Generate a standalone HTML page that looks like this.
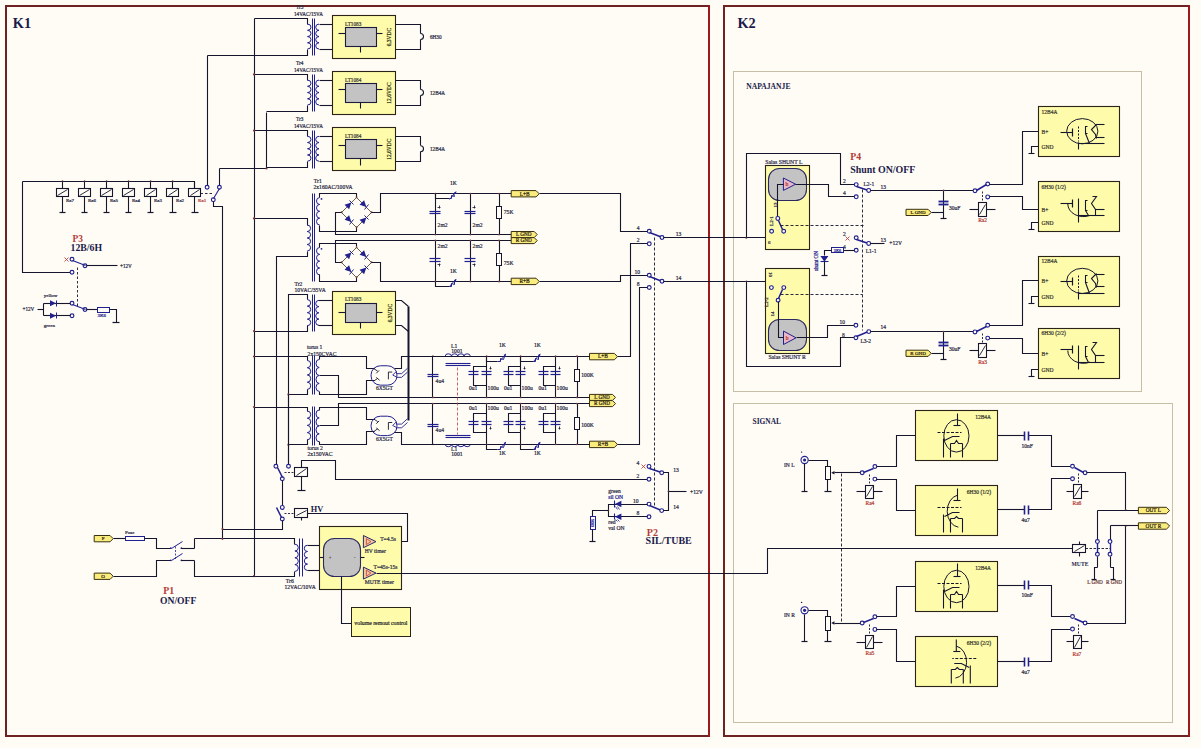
<!DOCTYPE html><html><head><meta charset="utf-8"><style>html,body{margin:0;padding:0;background:#fffcf5}svg{display:block}</style></head><body><svg width="1201" height="748" viewBox="0 0 1201 748">
<rect x="0" y="0" width="1201" height="748" fill="#fffcf5"/>
<path d="M5.00 6.00 L710.00 6.00" fill="none" stroke="#6e2222" stroke-width="2.0" />
<path d="M5.00 736.00 L710.00 736.00" fill="none" stroke="#6e2222" stroke-width="2.0" />
<path d="M6.00 5.00 L6.00 737.00" fill="none" stroke="#6e2222" stroke-width="2.0" />
<path d="M709.00 5.00 L709.00 737.00" fill="none" stroke="#9a1a1e" stroke-width="2.0" />
<path d="M723.00 6.00 L1190.00 6.00" fill="none" stroke="#6e2222" stroke-width="2.0" />
<path d="M723.00 736.00 L1190.00 736.00" fill="none" stroke="#6e2222" stroke-width="2.0" />
<path d="M724.00 5.00 L724.00 737.00" fill="none" stroke="#6e2222" stroke-width="2.0" />
<path d="M1189.00 5.00 L1189.00 737.00" fill="none" stroke="#9a1a1e" stroke-width="2.0" />
<rect x="733.5" y="71.5" width="408.0" height="320.0" fill="none" stroke="#c8bea6" stroke-width="1.0" rx="0"/>
<rect x="733.5" y="403.5" width="439.0" height="319.0" fill="none" stroke="#c8bea6" stroke-width="1.0" rx="0"/>
<text x="12.8" y="28" font-family="Liberation Serif" font-size="14.3" fill="#1a1a4a" font-weight="bold" text-anchor="start">K1</text>
<text x="737.4" y="28" font-family="Liberation Serif" font-size="14.3" fill="#1a1a4a" font-weight="bold" text-anchor="start">K2</text>
<path d="M254.50 18.50 L254.50 576.50" fill="none" stroke="#15152e" stroke-width="1.1" />
<path d="M207.50 55.50 L207.50 185.50" fill="none" stroke="#15152e" stroke-width="1.1" />
<path d="M266.50 112.50 L266.50 168.50" fill="none" stroke="#15152e" stroke-width="1.1" />
<path d="M219.50 168.50 L219.50 185.50" fill="none" stroke="#15152e" stroke-width="1.1" />
<path d="M219.50 168.50 L266.50 168.50" fill="none" stroke="#15152e" stroke-width="1.1" />
<path d="M254.50 18.50 L307.50 18.50 L307.50 24.50" fill="none" stroke="#15152e" stroke-width="1.1" />
<path d="M307.5 24.1 A3.5 3.1125 0 0 1 307.5 30.325000000000003 A3.5 3.1125 0 0 1 307.5 36.55 A3.5 3.1125 0 0 1 307.5 42.775 A3.5 3.1125 0 0 1 307.5 49.0" fill="none" stroke="#20208e" stroke-width="1.0"/>
<path d="M307.50 49.50 L307.50 55.50 L207.50 55.50" fill="none" stroke="#15152e" stroke-width="1.1" />
<path d="M312.50 18.50 L312.50 55.50" fill="none" stroke="#20208e" stroke-width="1.0" />
<path d="M314.50 18.50 L314.50 55.50" fill="none" stroke="#20208e" stroke-width="1.0" />
<path d="M332.50 24.50 L319.50 24.50" fill="none" stroke="#15152e" stroke-width="1.1" />
<path d="M319.0 24.1 A3.3 3.1125 0 0 0 319.0 30.325000000000003 A3.3 3.1125 0 0 0 319.0 36.55 A3.3 3.1125 0 0 0 319.0 42.775 A3.3 3.1125 0 0 0 319.0 49.0" fill="none" stroke="#20208e" stroke-width="1.0"/>
<path d="M319.50 49.50 L332.50 49.50" fill="none" stroke="#15152e" stroke-width="1.1" />
<text x="296" y="9" font-family="Liberation Serif" font-size="5.2" fill="#2c2c48" font-weight="normal" text-anchor="start" stroke="#2c2c48" stroke-width="0.22">Tr5</text>
<text x="294" y="15.6" font-family="Liberation Serif" font-size="5.2" fill="#2c2c48" font-weight="normal" text-anchor="start" stroke="#2c2c48" stroke-width="0.22">14VAC/15VA</text>
<rect x="332.5" y="15.5" width="63.0" height="43.0" fill="#fefcaa" stroke="#2a2418" stroke-width="1.1" rx="0"/>
<rect x="345.5" y="27.5" width="31.0" height="19.0" fill="#c3c3c3" stroke="#1c1c40" stroke-width="1.1" rx="0"/>
<path d="M338.50 33.50 L345.50 33.50" fill="none" stroke="#15152e" stroke-width="1.1" />
<path d="M376.50 33.50 L382.50 33.50" fill="none" stroke="#15152e" stroke-width="1.1" />
<path d="M360.50 46.50 L360.50 52.50" fill="none" stroke="#15152e" stroke-width="1.1" />
<text x="345" y="25.7" font-family="Liberation Serif" font-size="5.2" fill="#3a3a3a" font-weight="normal" text-anchor="start" stroke="#3a3a3a" stroke-width="0.22">LT1083</text>
<text x="391.2" y="37" font-family="Liberation Serif" font-size="5.5" fill="#3a3a20" font-weight="normal" text-anchor="middle" stroke="#3a3a20" stroke-width="0.22" transform="rotate(-90 391.2 37)">6,3VDC</text>
<path d="M395.50 24.50 L420.50 24.50 L420.50 33.50" fill="none" stroke="#15152e" stroke-width="1.1" />
<path d="M420.5 33.5 A3 3 0 0 1 420.5 39.5" fill="none" stroke="#15152e" stroke-width="1.1"/>
<path d="M420.50 39.50 L420.50 49.50 L395.50 49.50" fill="none" stroke="#15152e" stroke-width="1.1" />
<text x="430" y="38.5" font-family="Liberation Serif" font-size="5.2" fill="#2c2c48" font-weight="normal" text-anchor="start" stroke="#2c2c48" stroke-width="0.22">6H30</text>
<path d="M254.50 74.50 L307.50 74.50 L307.50 80.50" fill="none" stroke="#15152e" stroke-width="1.1" />
<path d="M307.5 80.1 A3.5 3.1125000000000007 0 0 1 307.5 86.32499999999999 A3.5 3.1125000000000007 0 0 1 307.5 92.55 A3.5 3.1125000000000007 0 0 1 307.5 98.775 A3.5 3.1125000000000007 0 0 1 307.5 105.0" fill="none" stroke="#20208e" stroke-width="1.0"/>
<path d="M307.50 105.50 L307.50 111.50 L266.50 111.50" fill="none" stroke="#15152e" stroke-width="1.1" />
<path d="M312.50 74.50 L312.50 111.50" fill="none" stroke="#20208e" stroke-width="1.0" />
<path d="M314.50 74.50 L314.50 111.50" fill="none" stroke="#20208e" stroke-width="1.0" />
<path d="M332.50 80.50 L319.50 80.50" fill="none" stroke="#15152e" stroke-width="1.1" />
<path d="M319.0 80.1 A3.3 3.1125000000000007 0 0 0 319.0 86.32499999999999 A3.3 3.1125000000000007 0 0 0 319.0 92.55 A3.3 3.1125000000000007 0 0 0 319.0 98.775 A3.3 3.1125000000000007 0 0 0 319.0 105.0" fill="none" stroke="#20208e" stroke-width="1.0"/>
<path d="M319.50 105.50 L332.50 105.50" fill="none" stroke="#15152e" stroke-width="1.1" />
<text x="296" y="65.0" font-family="Liberation Serif" font-size="5.2" fill="#2c2c48" font-weight="normal" text-anchor="start" stroke="#2c2c48" stroke-width="0.22">Tr4</text>
<text x="294" y="71.6" font-family="Liberation Serif" font-size="5.2" fill="#2c2c48" font-weight="normal" text-anchor="start" stroke="#2c2c48" stroke-width="0.22">14VAC/15VA</text>
<rect x="332.5" y="71.5" width="63.0" height="43.0" fill="#fefcaa" stroke="#2a2418" stroke-width="1.1" rx="0"/>
<rect x="345.5" y="83.5" width="31.0" height="19.0" fill="#c3c3c3" stroke="#1c1c40" stroke-width="1.1" rx="0"/>
<path d="M338.50 89.50 L345.50 89.50" fill="none" stroke="#15152e" stroke-width="1.1" />
<path d="M376.50 89.50 L382.50 89.50" fill="none" stroke="#15152e" stroke-width="1.1" />
<path d="M360.50 102.50 L360.50 108.50" fill="none" stroke="#15152e" stroke-width="1.1" />
<text x="345" y="81.7" font-family="Liberation Serif" font-size="5.2" fill="#3a3a3a" font-weight="normal" text-anchor="start" stroke="#3a3a3a" stroke-width="0.22">LT1084</text>
<text x="391.2" y="93.0" font-family="Liberation Serif" font-size="5.5" fill="#3a3a20" font-weight="normal" text-anchor="middle" stroke="#3a3a20" stroke-width="0.22" transform="rotate(-90 391.2 93.0)">12,6VDC</text>
<path d="M395.50 80.50 L420.50 80.50 L420.50 89.50" fill="none" stroke="#15152e" stroke-width="1.1" />
<path d="M420.5 89.5 A3 3 0 0 1 420.5 95.5" fill="none" stroke="#15152e" stroke-width="1.1"/>
<path d="M420.50 95.50 L420.50 105.50 L395.50 105.50" fill="none" stroke="#15152e" stroke-width="1.1" />
<text x="430" y="94.5" font-family="Liberation Serif" font-size="5.2" fill="#2c2c48" font-weight="normal" text-anchor="start" stroke="#2c2c48" stroke-width="0.22">12B4A</text>
<path d="M254.50 130.50 L307.50 130.50 L307.50 136.50" fill="none" stroke="#15152e" stroke-width="1.1" />
<path d="M307.5 136.3 A3.5 3.112499999999997 0 0 1 307.5 142.525 A3.5 3.112499999999997 0 0 1 307.5 148.75 A3.5 3.112499999999997 0 0 1 307.5 154.975 A3.5 3.112499999999997 0 0 1 307.5 161.2" fill="none" stroke="#20208e" stroke-width="1.0"/>
<path d="M307.50 161.50 L307.50 167.50 L266.50 167.50" fill="none" stroke="#15152e" stroke-width="1.1" />
<path d="M312.50 130.50 L312.50 168.50" fill="none" stroke="#20208e" stroke-width="1.0" />
<path d="M314.50 130.50 L314.50 168.50" fill="none" stroke="#20208e" stroke-width="1.0" />
<path d="M332.50 136.50 L319.50 136.50" fill="none" stroke="#15152e" stroke-width="1.1" />
<path d="M319.0 136.3 A3.3 3.112499999999997 0 0 0 319.0 142.525 A3.3 3.112499999999997 0 0 0 319.0 148.75 A3.3 3.112499999999997 0 0 0 319.0 154.975 A3.3 3.112499999999997 0 0 0 319.0 161.2" fill="none" stroke="#20208e" stroke-width="1.0"/>
<path d="M319.50 161.50 L332.50 161.50" fill="none" stroke="#15152e" stroke-width="1.1" />
<text x="296" y="121.2" font-family="Liberation Serif" font-size="5.2" fill="#2c2c48" font-weight="normal" text-anchor="start" stroke="#2c2c48" stroke-width="0.22">Tr3</text>
<text x="294" y="127.8" font-family="Liberation Serif" font-size="5.2" fill="#2c2c48" font-weight="normal" text-anchor="start" stroke="#2c2c48" stroke-width="0.22">14VAC/15VA</text>
<rect x="332.5" y="127.5" width="63.0" height="43.0" fill="#fefcaa" stroke="#2a2418" stroke-width="1.1" rx="0"/>
<rect x="345.5" y="139.5" width="31.0" height="19.0" fill="#c3c3c3" stroke="#1c1c40" stroke-width="1.1" rx="0"/>
<path d="M338.50 145.50 L345.50 145.50" fill="none" stroke="#15152e" stroke-width="1.1" />
<path d="M376.50 145.50 L382.50 145.50" fill="none" stroke="#15152e" stroke-width="1.1" />
<path d="M360.50 158.50 L360.50 165.50" fill="none" stroke="#15152e" stroke-width="1.1" />
<text x="345" y="137.9" font-family="Liberation Serif" font-size="5.2" fill="#3a3a3a" font-weight="normal" text-anchor="start" stroke="#3a3a3a" stroke-width="0.22">LT1084</text>
<text x="391.2" y="149.2" font-family="Liberation Serif" font-size="5.5" fill="#3a3a20" font-weight="normal" text-anchor="middle" stroke="#3a3a20" stroke-width="0.22" transform="rotate(-90 391.2 149.2)">12,6VDC</text>
<path d="M395.50 136.50 L420.50 136.50 L420.50 145.50" fill="none" stroke="#15152e" stroke-width="1.1" />
<path d="M420.5 145.7 A3 3 0 0 1 420.5 151.7" fill="none" stroke="#15152e" stroke-width="1.1"/>
<path d="M420.50 151.50 L420.50 161.50 L395.50 161.50" fill="none" stroke="#15152e" stroke-width="1.1" />
<text x="430" y="150.7" font-family="Liberation Serif" font-size="5.2" fill="#2c2c48" font-weight="normal" text-anchor="start" stroke="#2c2c48" stroke-width="0.22">12B4A</text>
<circle cx="254" cy="74.4" r="1.1" fill="#7a3a3a"/>
<circle cx="254" cy="130.6" r="1.1" fill="#7a3a3a"/>
<circle cx="266.5" cy="168.5" r="1.1" fill="#7a3a3a"/>
<path d="M22.50 181.50 L194.50 181.50 L194.50 188.50" fill="none" stroke="#15152e" stroke-width="1.1" />
<path d="M22.50 181.50 L22.50 272.50 L70.50 272.50" fill="none" stroke="#15152e" stroke-width="1.1" />
<circle cx="62.5" cy="181.1" r="0.9" fill="#7a3a3a"/>
<path d="M62.50 181.50 L62.50 188.50" fill="none" stroke="#15152e" stroke-width="1.1" />
<rect x="56.5" y="188.5" width="12.0" height="8.0" fill="none" stroke="#15152e" stroke-width="1.1" rx="0"/>
<path d="M57.50 195.50 L67.50 189.50" fill="none" stroke="#15152e" stroke-width="0.9" />
<path d="M62.50 196.50 L62.50 212.50" fill="none" stroke="#15152e" stroke-width="1.1" />
<path d="M59.50 212.50 L65.50 212.50" fill="none" stroke="#15152e" stroke-width="1.2" />
<text x="65.9" y="201.8" font-family="Liberation Serif" font-size="5.0" fill="#2c2c48" font-weight="normal" text-anchor="start" stroke="#2c2c48" stroke-width="0.22">Ra7</text>
<circle cx="84.53" cy="181.1" r="0.9" fill="#7a3a3a"/>
<path d="M84.50 181.50 L84.50 188.50" fill="none" stroke="#15152e" stroke-width="1.1" />
<rect x="78.5" y="188.5" width="12.0" height="8.0" fill="none" stroke="#15152e" stroke-width="1.1" rx="0"/>
<path d="M79.50 195.50 L89.50 189.50" fill="none" stroke="#15152e" stroke-width="0.9" />
<path d="M84.50 196.50 L84.50 212.50" fill="none" stroke="#15152e" stroke-width="1.1" />
<path d="M81.50 212.50 L87.50 212.50" fill="none" stroke="#15152e" stroke-width="1.2" />
<text x="87.93" y="201.8" font-family="Liberation Serif" font-size="5.0" fill="#2c2c48" font-weight="normal" text-anchor="start" stroke="#2c2c48" stroke-width="0.22">Ra6</text>
<circle cx="106.56" cy="181.1" r="0.9" fill="#7a3a3a"/>
<path d="M106.50 181.50 L106.50 188.50" fill="none" stroke="#15152e" stroke-width="1.1" />
<rect x="100.5" y="188.5" width="12.0" height="8.0" fill="none" stroke="#15152e" stroke-width="1.1" rx="0"/>
<path d="M101.50 195.50 L111.50 189.50" fill="none" stroke="#15152e" stroke-width="0.9" />
<path d="M106.50 196.50 L106.50 212.50" fill="none" stroke="#15152e" stroke-width="1.1" />
<path d="M103.50 212.50 L109.50 212.50" fill="none" stroke="#15152e" stroke-width="1.2" />
<text x="109.96000000000001" y="201.8" font-family="Liberation Serif" font-size="5.0" fill="#2c2c48" font-weight="normal" text-anchor="start" stroke="#2c2c48" stroke-width="0.22">Ra5</text>
<circle cx="128.59" cy="181.1" r="0.9" fill="#7a3a3a"/>
<path d="M128.50 181.50 L128.50 188.50" fill="none" stroke="#15152e" stroke-width="1.1" />
<rect x="122.5" y="188.5" width="12.0" height="8.0" fill="none" stroke="#15152e" stroke-width="1.1" rx="0"/>
<path d="M123.50 195.50 L133.50 189.50" fill="none" stroke="#15152e" stroke-width="0.9" />
<path d="M128.50 196.50 L128.50 212.50" fill="none" stroke="#15152e" stroke-width="1.1" />
<path d="M125.50 212.50 L131.50 212.50" fill="none" stroke="#15152e" stroke-width="1.2" />
<text x="131.99" y="201.8" font-family="Liberation Serif" font-size="5.0" fill="#2c2c48" font-weight="normal" text-anchor="start" stroke="#2c2c48" stroke-width="0.22">Ra4</text>
<circle cx="150.62" cy="181.1" r="0.9" fill="#7a3a3a"/>
<path d="M150.50 181.50 L150.50 188.50" fill="none" stroke="#15152e" stroke-width="1.1" />
<rect x="144.5" y="188.5" width="12.0" height="8.0" fill="none" stroke="#15152e" stroke-width="1.1" rx="0"/>
<path d="M146.50 195.50 L155.50 189.50" fill="none" stroke="#15152e" stroke-width="0.9" />
<path d="M150.50 196.50 L150.50 212.50" fill="none" stroke="#15152e" stroke-width="1.1" />
<path d="M147.50 212.50 L153.50 212.50" fill="none" stroke="#15152e" stroke-width="1.2" />
<text x="154.02" y="201.8" font-family="Liberation Serif" font-size="5.0" fill="#2c2c48" font-weight="normal" text-anchor="start" stroke="#2c2c48" stroke-width="0.22">Ra3</text>
<circle cx="172.65" cy="181.1" r="0.9" fill="#7a3a3a"/>
<path d="M172.50 181.50 L172.50 188.50" fill="none" stroke="#15152e" stroke-width="1.1" />
<rect x="166.5" y="188.5" width="12.0" height="8.0" fill="none" stroke="#15152e" stroke-width="1.1" rx="0"/>
<path d="M168.50 195.50 L177.50 189.50" fill="none" stroke="#15152e" stroke-width="0.9" />
<path d="M172.50 196.50 L172.50 212.50" fill="none" stroke="#15152e" stroke-width="1.1" />
<path d="M169.50 212.50 L176.50 212.50" fill="none" stroke="#15152e" stroke-width="1.2" />
<text x="176.05" y="201.8" font-family="Liberation Serif" font-size="5.0" fill="#2c2c48" font-weight="normal" text-anchor="start" stroke="#2c2c48" stroke-width="0.22">Ra2</text>
<path d="M194.50 181.50 L194.50 188.50" fill="none" stroke="#15152e" stroke-width="1.1" />
<rect x="188.5" y="188.5" width="12.0" height="8.0" fill="none" stroke="#15152e" stroke-width="1.1" rx="0"/>
<path d="M190.50 195.50 L199.50 189.50" fill="none" stroke="#15152e" stroke-width="0.9" />
<path d="M194.50 196.50 L194.50 212.50" fill="none" stroke="#15152e" stroke-width="1.1" />
<path d="M191.50 212.50 L198.50 212.50" fill="none" stroke="#15152e" stroke-width="1.2" />
<text x="198.08" y="201.8" font-family="Liberation Serif" font-size="5.0" fill="#b53c3a" font-weight="normal" text-anchor="start" stroke="#b53c3a" stroke-width="0.22">Ra1</text>
<path d="M200.50 193.50 L213.50 193.50" fill="none" stroke="#15152e" stroke-width="0.9" stroke-dasharray="2.5 2"/>
<circle cx="207.1" cy="187.2" r="1.9" fill="#fffcf5" stroke="#20208e" stroke-width="1.15"/>
<circle cx="219.4" cy="187.2" r="1.9" fill="#fffcf5" stroke="#20208e" stroke-width="1.15"/>
<circle cx="213.3" cy="199.8" r="1.9" fill="#fffcf5" stroke="#20208e" stroke-width="1.15"/>
<path d="M213.50 198.50 L219.50 188.50" fill="none" stroke="#20208e" stroke-width="1.1" />
<path d="M213.50 201.50 L213.50 206.50 L222.50 206.50 L222.50 538.50" fill="none" stroke="#15152e" stroke-width="1.1" />
<text x="72.5" y="241.5" font-family="Liberation Serif" font-size="9.4" fill="#b53c3a" font-weight="bold" text-anchor="start">P3</text>
<text x="70.5" y="250.5" font-family="Liberation Serif" font-size="9.8" fill="#1a1a4a" font-weight="bold" text-anchor="start">12B/6H</text>
<circle cx="72" cy="259.3" r="1.9" fill="#fffcf5" stroke="#20208e" stroke-width="1.15"/>
<circle cx="72" cy="272.3" r="1.9" fill="#fffcf5" stroke="#20208e" stroke-width="1.15"/>
<circle cx="85" cy="265.8" r="1.9" fill="#fffcf5" stroke="#20208e" stroke-width="1.15"/>
<path d="M64.50 257.50 L68.50 261.50" fill="none" stroke="#d04040" stroke-width="0.9" />
<path d="M64.50 261.50 L68.50 257.50" fill="none" stroke="#d04040" stroke-width="0.9" />
<path d="M72.50 260.50 L85.50 265.50" fill="none" stroke="#20208e" stroke-width="1.1" />
<path d="M86.50 265.50 L117.50 265.50" fill="none" stroke="#15152e" stroke-width="1.1" />
<text x="120" y="267.5" font-family="Liberation Serif" font-size="5.2" fill="#2c2c48" font-weight="normal" text-anchor="start" stroke="#2c2c48" stroke-width="0.22">+12V</text>
<path d="M77.50 267.50 L77.50 306.50" fill="none" stroke="#15152e" stroke-width="0.9" stroke-dasharray="2.5 2"/>
<circle cx="72" cy="303.2" r="1.9" fill="#fffcf5" stroke="#20208e" stroke-width="1.15"/>
<circle cx="72" cy="315.8" r="1.9" fill="#fffcf5" stroke="#20208e" stroke-width="1.15"/>
<circle cx="85" cy="309.5" r="1.9" fill="#fffcf5" stroke="#20208e" stroke-width="1.15"/>
<path d="M72.50 304.50 L85.50 309.50" fill="none" stroke="#20208e" stroke-width="1.1" />
<path d="M86.50 309.50 L97.50 309.50" fill="none" stroke="#15152e" stroke-width="1.1" />
<rect x="97.5" y="307.5" width="12.0" height="5.0" fill="none" stroke="#20208e" stroke-width="1.0" rx="0"/>
<path d="M109.50 309.50 L116.50 309.50 L116.50 322.50" fill="none" stroke="#15152e" stroke-width="1.1" />
<path d="M112.50 322.50 L119.50 322.50" fill="none" stroke="#15152e" stroke-width="1.2" />
<text x="97.5" y="317" font-family="Liberation Serif" font-size="5" fill="#20208e" font-weight="normal" text-anchor="start" stroke="#20208e" stroke-width="0.22">3K6</text>
<path d="M37.50 309.50 L43.50 309.50" fill="none" stroke="#15152e" stroke-width="1.1" />
<path d="M43.50 303.50 L43.50 315.50" fill="none" stroke="#15152e" stroke-width="1.1" />
<path d="M43.50 303.50 L70.50 303.50" fill="none" stroke="#15152e" stroke-width="1.1" />
<path d="M43.50 315.50 L70.50 315.50" fill="none" stroke="#15152e" stroke-width="1.1" />
<path d="M50 300.2 L50 306.2 L56 303.2 Z" fill="#20208e"/>
<path d="M56.50 300.50 L56.50 306.50" fill="none" stroke="#20208e" stroke-width="1.0" />
<path d="M50 312.8 L50 318.8 L56 315.8 Z" fill="#20208e"/>
<path d="M56.50 312.50 L56.50 318.50" fill="none" stroke="#20208e" stroke-width="1.0" />
<text x="43.8" y="296.5" font-family="Liberation Serif" font-size="5" fill="#2c2c48" font-weight="normal" text-anchor="start" stroke="#2c2c48" stroke-width="0.22">yellow</text>
<text x="43.8" y="326.5" font-family="Liberation Serif" font-size="5" fill="#2c2c48" font-weight="normal" text-anchor="start" stroke="#2c2c48" stroke-width="0.22">green</text>
<text x="22.5" y="311" font-family="Liberation Serif" font-size="5.2" fill="#2c2c48" font-weight="normal" text-anchor="start" stroke="#2c2c48" stroke-width="0.22">+12V</text>
<path d="M254.50 218.50 L307.50 218.50 L307.50 225.50" fill="none" stroke="#15152e" stroke-width="1.1" />
<path d="M307.2 225 A3.4 3.25 0 0 1 307.2 231.5 A3.4 3.25 0 0 1 307.2 238.0 A3.4 3.25 0 0 1 307.2 244.5 A3.4 3.25 0 0 1 307.2 251.0" fill="none" stroke="#20208e" stroke-width="1.0"/>
<path d="M307.50 251.50 L307.50 256.50 L276.50 256.50 L276.50 464.50" fill="none" stroke="#15152e" stroke-width="1.1" />
<circle cx="254" cy="218.4" r="1.1" fill="#7a3a3a"/>
<path d="M312.50 193.50 L312.50 281.50" fill="none" stroke="#20208e" stroke-width="1.0" />
<path d="M314.50 193.50 L314.50 281.50" fill="none" stroke="#20208e" stroke-width="1.0" />
<text x="313.8" y="183" font-family="Liberation Serif" font-size="5.6" fill="#2c2c48" font-weight="normal" text-anchor="start" stroke="#2c2c48" stroke-width="0.22">Tr1</text>
<text x="313.5" y="188.8" font-family="Liberation Serif" font-size="5.6" fill="#2c2c48" font-weight="normal" text-anchor="start" stroke="#2c2c48" stroke-width="0.22">2x160AC/100VA</text>
<path d="M319.50 197.50 L319.50 193.50 L356.50 193.50 L356.50 197.50" fill="none" stroke="#15152e" stroke-width="1.1" />
<path d="M319.7 197.6 A3.2 3.4250000000000007 0 0 0 319.7 204.45 A3.2 3.4250000000000007 0 0 0 319.7 211.3 A3.2 3.4250000000000007 0 0 0 319.7 218.15 A3.2 3.4250000000000007 0 0 0 319.7 225.0" fill="none" stroke="#20208e" stroke-width="1.0"/>
<path d="M319.50 225.50 L319.50 231.50 L356.50 231.50 L356.50 227.50" fill="none" stroke="#15152e" stroke-width="1.1" />
<circle cx="321.5" cy="198.9" r="0.9" fill="#20208e"/>
<path d="M341.50 212.50 L356.50 197.50 L371.50 212.50 L356.50 227.50 L341.50 212.50" fill="none" stroke="#5a4a3a" stroke-width="0.9" />
<path d="M349.10 209.28 L344.57 204.75 L351.36 202.49 Z" fill="#20208e"/>
<path d="M353.50 204.50 L349.50 200.50" fill="none" stroke="#20208e" stroke-width="1.0" />
<path d="M359.57 204.75 L364.10 200.22 L366.36 207.01 Z" fill="#20208e"/>
<path d="M364.50 209.50 L368.50 204.50" fill="none" stroke="#20208e" stroke-width="1.0" />
<path d="M344.57 219.75 L349.10 215.22 L351.36 222.01 Z" fill="#20208e"/>
<path d="M349.50 224.50 L353.50 219.50" fill="none" stroke="#20208e" stroke-width="1.0" />
<path d="M364.10 224.28 L359.57 219.75 L366.36 217.49 Z" fill="#20208e"/>
<path d="M368.50 219.50 L364.50 215.50" fill="none" stroke="#20208e" stroke-width="1.0" />
<circle cx="356.6" cy="197.25" r="0.9" fill="#7a3a3a"/>
<circle cx="356.6" cy="227.25" r="0.9" fill="#7a3a3a"/>
<circle cx="341.6" cy="212.25" r="0.9" fill="#7a3a3a"/>
<circle cx="371.6" cy="212.25" r="0.9" fill="#7a3a3a"/>
<path d="M341.50 212.50 L335.50 212.50 L335.50 234.50 L511.50 234.50" fill="none" stroke="#15152e" stroke-width="1.1" />
<path d="M371.50 212.50 L380.50 212.50 L380.50 193.50 L511.50 193.50" fill="none" stroke="#15152e" stroke-width="1.1" />
<path d="M319.50 247.50 L319.50 243.50 L356.50 243.50 L356.50 246.50" fill="none" stroke="#15152e" stroke-width="1.1" />
<path d="M319.7 247.5 A3.2 3.424999999999997 0 0 0 319.7 254.35 A3.2 3.424999999999997 0 0 0 319.7 261.2 A3.2 3.424999999999997 0 0 0 319.7 268.04999999999995 A3.2 3.424999999999997 0 0 0 319.7 274.9" fill="none" stroke="#20208e" stroke-width="1.0"/>
<path d="M319.50 274.50 L319.50 281.50 L356.50 281.50 L356.50 277.50" fill="none" stroke="#15152e" stroke-width="1.1" />
<circle cx="321.5" cy="248.8" r="0.9" fill="#20208e"/>
<path d="M341.50 262.50 L356.50 247.50 L371.50 262.50 L356.50 277.50 L341.50 262.50" fill="none" stroke="#5a4a3a" stroke-width="0.9" />
<path d="M349.10 259.28 L344.57 254.75 L351.36 252.49 Z" fill="#20208e"/>
<path d="M353.50 254.50 L349.50 250.50" fill="none" stroke="#20208e" stroke-width="1.0" />
<path d="M359.57 254.75 L364.10 250.22 L366.36 257.01 Z" fill="#20208e"/>
<path d="M364.50 259.50 L368.50 254.50" fill="none" stroke="#20208e" stroke-width="1.0" />
<path d="M344.57 269.75 L349.10 265.22 L351.36 272.01 Z" fill="#20208e"/>
<path d="M349.50 274.50 L353.50 269.50" fill="none" stroke="#20208e" stroke-width="1.0" />
<path d="M364.10 274.28 L359.57 269.75 L366.36 267.49 Z" fill="#20208e"/>
<path d="M368.50 269.50 L364.50 265.50" fill="none" stroke="#20208e" stroke-width="1.0" />
<circle cx="356.6" cy="247.25" r="0.9" fill="#7a3a3a"/>
<circle cx="356.6" cy="277.25" r="0.9" fill="#7a3a3a"/>
<circle cx="341.6" cy="262.25" r="0.9" fill="#7a3a3a"/>
<circle cx="371.6" cy="262.25" r="0.9" fill="#7a3a3a"/>
<path d="M341.50 262.50 L335.50 262.50 L335.50 240.50 L511.50 240.50" fill="none" stroke="#15152e" stroke-width="1.1" />
<path d="M371.50 262.50 L380.50 262.50 L380.50 281.50 L511.50 281.50" fill="none" stroke="#15152e" stroke-width="1.1" />
<path d="M435.50 193.50 L435.50 234.50" fill="none" stroke="#15152e" stroke-width="1.1" />
<circle cx="435.4" cy="193.6" r="0.9" fill="#7a3a3a"/>
<circle cx="435.4" cy="234.6" r="0.9" fill="#7a3a3a"/>
<path d="M470.50 193.50 L470.50 234.50" fill="none" stroke="#15152e" stroke-width="1.1" />
<circle cx="470.4" cy="193.6" r="0.9" fill="#7a3a3a"/>
<circle cx="470.4" cy="234.6" r="0.9" fill="#7a3a3a"/>
<path d="M499.50 193.50 L499.50 234.50" fill="none" stroke="#15152e" stroke-width="1.1" />
<circle cx="499.0" cy="193.6" r="0.9" fill="#7a3a3a"/>
<circle cx="499.0" cy="234.6" r="0.9" fill="#7a3a3a"/>
<path d="M429.50 211.50 L440.50 211.50" fill="none" stroke="#20208e" stroke-width="1.2" />
<path d="M429.50 213.50 L440.50 213.50" fill="none" stroke="#20208e" stroke-width="1.2" />
<path d="M437.50 207.50 L440.50 207.50" fill="none" stroke="#15152e" stroke-width="0.8" />
<path d="M439.50 205.50 L439.50 208.50" fill="none" stroke="#15152e" stroke-width="0.8" />
<path d="M464.50 211.50 L475.50 211.50" fill="none" stroke="#20208e" stroke-width="1.2" />
<path d="M464.50 213.50 L475.50 213.50" fill="none" stroke="#20208e" stroke-width="1.2" />
<path d="M472.50 207.50 L475.50 207.50" fill="none" stroke="#15152e" stroke-width="0.8" />
<path d="M474.50 205.50 L474.50 208.50" fill="none" stroke="#15152e" stroke-width="0.8" />
<text x="437.6" y="226.5" font-family="Liberation Serif" font-size="5.6" fill="#2c2c48" font-weight="normal" text-anchor="start" stroke="#2c2c48" stroke-width="0.22">2m2</text>
<text x="472.6" y="226.5" font-family="Liberation Serif" font-size="5.6" fill="#2c2c48" font-weight="normal" text-anchor="start" stroke="#2c2c48" stroke-width="0.22">2m2</text>
<rect x="496.5" y="206.5" width="5.0" height="12.0" fill="#fffcf5" stroke="#15152e" stroke-width="1.0" rx="0"/>
<text x="503.8" y="213.5" font-family="Liberation Serif" font-size="5.6" fill="#2c2c48" font-weight="normal" text-anchor="start" stroke="#2c2c48" stroke-width="0.22">75K</text>
<path d="M435.50 193.50 L435.50 198.50 L449.50 198.50" fill="none" stroke="#15152e" stroke-width="1.1" />
<path d="M449.50 198.50 L451.50 198.50 L451.50 195.50 L454.50 196.50 L453.50 193.50 L456.50 193.50" fill="none" stroke="#20208e" stroke-width="1.0" />
<path d="M449.50 199.50 L455.50 192.50" fill="none" stroke="#20208e" stroke-width="0.9" />
<path d="M456.5 191.2 L453.9 192.6 L455.9 194.0 Z" fill="#20208e"/>
<text x="450" y="185.1" font-family="Liberation Serif" font-size="5.6" fill="#2c2c48" font-weight="normal" text-anchor="start" stroke="#2c2c48" stroke-width="0.22">1K</text>
<path d="M435.50 281.50 L435.50 240.50" fill="none" stroke="#15152e" stroke-width="1.1" />
<circle cx="435.4" cy="281.5" r="0.9" fill="#7a3a3a"/>
<circle cx="435.4" cy="240.4" r="0.9" fill="#7a3a3a"/>
<path d="M470.50 281.50 L470.50 240.50" fill="none" stroke="#15152e" stroke-width="1.1" />
<circle cx="470.4" cy="281.5" r="0.9" fill="#7a3a3a"/>
<circle cx="470.4" cy="240.4" r="0.9" fill="#7a3a3a"/>
<path d="M499.50 281.50 L499.50 240.50" fill="none" stroke="#15152e" stroke-width="1.1" />
<circle cx="499.0" cy="281.5" r="0.9" fill="#7a3a3a"/>
<circle cx="499.0" cy="240.4" r="0.9" fill="#7a3a3a"/>
<path d="M429.50 258.50 L440.50 258.50" fill="none" stroke="#20208e" stroke-width="1.2" />
<path d="M429.50 261.50 L440.50 261.50" fill="none" stroke="#20208e" stroke-width="1.2" />
<path d="M437.50 264.50 L440.50 264.50" fill="none" stroke="#15152e" stroke-width="0.8" />
<path d="M439.50 263.50 L439.50 266.50" fill="none" stroke="#15152e" stroke-width="0.8" />
<path d="M464.50 258.50 L475.50 258.50" fill="none" stroke="#20208e" stroke-width="1.2" />
<path d="M464.50 261.50 L475.50 261.50" fill="none" stroke="#20208e" stroke-width="1.2" />
<path d="M472.50 264.50 L475.50 264.50" fill="none" stroke="#15152e" stroke-width="0.8" />
<path d="M474.50 263.50 L474.50 266.50" fill="none" stroke="#15152e" stroke-width="0.8" />
<text x="437.6" y="248" font-family="Liberation Serif" font-size="5.6" fill="#2c2c48" font-weight="normal" text-anchor="start" stroke="#2c2c48" stroke-width="0.22">2m2</text>
<text x="472.6" y="248" font-family="Liberation Serif" font-size="5.6" fill="#2c2c48" font-weight="normal" text-anchor="start" stroke="#2c2c48" stroke-width="0.22">2m2</text>
<rect x="496.5" y="253.5" width="5.0" height="12.0" fill="#fffcf5" stroke="#15152e" stroke-width="1.0" rx="0"/>
<text x="503.8" y="264.5" font-family="Liberation Serif" font-size="5.6" fill="#2c2c48" font-weight="normal" text-anchor="start" stroke="#2c2c48" stroke-width="0.22">75K</text>
<path d="M435.50 281.50 L435.50 286.50 L449.50 286.50" fill="none" stroke="#15152e" stroke-width="1.1" />
<path d="M449.50 286.50 L451.50 286.50 L451.50 283.50 L454.50 284.50 L454.50 281.50 L456.50 281.50" fill="none" stroke="#20208e" stroke-width="1.0" />
<path d="M449.50 286.50 L455.50 279.50" fill="none" stroke="#20208e" stroke-width="0.9" />
<path d="M456.5 278.75 L453.9 280.15 L455.9 281.55 Z" fill="#20208e"/>
<text x="450" y="272.5" font-family="Liberation Serif" font-size="5.6" fill="#2c2c48" font-weight="normal" text-anchor="start" stroke="#2c2c48" stroke-width="0.22">1K</text>
<path d="M511.20 190.60 L536.05 190.60 L539.20 193.75 L536.05 196.90 L511.20 196.90 Z" fill="#fbec7e" stroke="#3a3010" stroke-width="1.0"/>
<text x="524.625" y="195.64" font-family="Liberation Serif" font-size="5.4" fill="#2a2210" font-weight="normal" text-anchor="middle" stroke="#2a2210" stroke-width="0.22">L+B</text>
<path d="M511.20 231.50 L534.20 231.50 L537.20 234.50 L534.20 237.50 L511.20 237.50 Z" fill="#fbec7e" stroke="#3a3010" stroke-width="1.0"/>
<text x="523.7" y="236.32" font-family="Liberation Serif" font-size="5.2" fill="#2a2210" font-weight="normal" text-anchor="middle" stroke="#2a2210" stroke-width="0.22">L GND</text>
<path d="M511.20 237.60 L534.20 237.60 L537.20 240.60 L534.20 243.60 L511.20 243.60 Z" fill="#fbec7e" stroke="#3a3010" stroke-width="1.0"/>
<text x="523.7" y="242.42" font-family="Liberation Serif" font-size="5.2" fill="#2a2210" font-weight="normal" text-anchor="middle" stroke="#2a2210" stroke-width="0.22">R GND</text>
<path d="M511.20 278.20 L536.00 278.20 L539.20 281.40 L536.00 284.60 L511.20 284.60 Z" fill="#fbec7e" stroke="#3a3010" stroke-width="1.0"/>
<text x="524.6" y="283.28999999999996" font-family="Liberation Serif" font-size="5.4" fill="#2a2210" font-weight="normal" text-anchor="middle" stroke="#2a2210" stroke-width="0.22">R+B</text>
<path d="M539.50 193.50 L620.50 193.50 L620.50 231.50 L647.50 231.50" fill="none" stroke="#15152e" stroke-width="1.1" />
<path d="M539.50 281.50 L620.50 281.50 L620.50 275.50 L647.50 275.50" fill="none" stroke="#15152e" stroke-width="1.1" />
<path d="M288.50 466.50 L288.50 294.50 L307.50 294.50 L307.50 299.50" fill="none" stroke="#15152e" stroke-width="1.1" />
<path d="M307.3 299.6 A3.4 3.2624999999999957 0 0 1 307.3 306.125 A3.4 3.2624999999999957 0 0 1 307.3 312.65 A3.4 3.2624999999999957 0 0 1 307.3 319.175 A3.4 3.2624999999999957 0 0 1 307.3 325.7" fill="none" stroke="#20208e" stroke-width="1.0"/>
<path d="M307.50 325.50 L307.50 331.50 L254.50 331.50" fill="none" stroke="#15152e" stroke-width="1.1" />
<circle cx="254" cy="331.1" r="1.1" fill="#7a3a3a"/>
<path d="M312.50 294.50 L312.50 331.50" fill="none" stroke="#20208e" stroke-width="1.0" />
<path d="M314.50 294.50 L314.50 331.50" fill="none" stroke="#20208e" stroke-width="1.0" />
<path d="M332.50 300.50 L318.50 300.50" fill="none" stroke="#15152e" stroke-width="1.1" />
<path d="M318.9 300.4 A3.2 3.1125000000000043 0 0 0 318.9 306.625 A3.2 3.1125000000000043 0 0 0 318.9 312.85 A3.2 3.1125000000000043 0 0 0 318.9 319.075 A3.2 3.1125000000000043 0 0 0 318.9 325.3" fill="none" stroke="#20208e" stroke-width="1.0"/>
<path d="M318.50 325.50 L332.50 325.50" fill="none" stroke="#15152e" stroke-width="1.1" />
<text x="294.5" y="285.5" font-family="Liberation Serif" font-size="5.6" fill="#2c2c48" font-weight="normal" text-anchor="start" stroke="#2c2c48" stroke-width="0.22">Tr2</text>
<text x="294.5" y="291.5" font-family="Liberation Serif" font-size="5.6" fill="#2c2c48" font-weight="normal" text-anchor="start" stroke="#2c2c48" stroke-width="0.22">10VAC/35VA</text>
<rect x="332.5" y="291.5" width="63.0" height="43.0" fill="#fefcaa" stroke="#2a2418" stroke-width="1.1" rx="0"/>
<rect x="345.5" y="303.5" width="31.0" height="19.0" fill="#c3c3c3" stroke="#1c1c40" stroke-width="1.1" rx="0"/>
<path d="M338.50 312.50 L345.50 312.50" fill="none" stroke="#15152e" stroke-width="1.1" />
<path d="M376.50 312.50 L382.50 312.50" fill="none" stroke="#15152e" stroke-width="1.1" />
<path d="M360.50 322.50 L360.50 328.50" fill="none" stroke="#15152e" stroke-width="1.1" />
<text x="345" y="301" font-family="Liberation Serif" font-size="5.2" fill="#3a3a3a" font-weight="normal" text-anchor="start" stroke="#3a3a3a" stroke-width="0.22">LT1083</text>
<text x="391.5" y="313" font-family="Liberation Serif" font-size="5.5" fill="#3a3a20" font-weight="normal" text-anchor="middle" stroke="#3a3a20" stroke-width="0.22" transform="rotate(-90 391.5 313)">6,3VDC</text>
<path d="M395.50 300.50 L401.50 300.50 L408.50 306.50" fill="none" stroke="#15152e" stroke-width="1.1" />
<path d="M395.50 325.50 L401.50 325.50 L408.50 331.50" fill="none" stroke="#15152e" stroke-width="1.1" />
<path d="M408.50 306.50 L408.50 420.50" fill="none" stroke="#15152e" stroke-width="2.0" />
<text x="306.9" y="348.5" font-family="Liberation Serif" font-size="5.6" fill="#2c2c48" font-weight="normal" text-anchor="start" stroke="#2c2c48" stroke-width="0.22">torus 1</text>
<text x="307.6" y="355.5" font-family="Liberation Serif" font-size="5.6" fill="#2c2c48" font-weight="normal" text-anchor="start" stroke="#2c2c48" stroke-width="0.22">2x150CVAC</text>
<text x="307.5" y="450" font-family="Liberation Serif" font-size="5.6" fill="#2c2c48" font-weight="normal" text-anchor="start" stroke="#2c2c48" stroke-width="0.22">torus 2</text>
<text x="307.5" y="456" font-family="Liberation Serif" font-size="5.6" fill="#2c2c48" font-weight="normal" text-anchor="start" stroke="#2c2c48" stroke-width="0.22">2x150VAC</text>
<path d="M254.50 356.50 L307.50 356.50 L307.50 360.50" fill="none" stroke="#15152e" stroke-width="1.1" />
<circle cx="254" cy="356.5" r="1.1" fill="#7a3a3a"/>
<path d="M307.3 360.5 A3.4 3.612499999999997 0 0 1 307.3 367.725 A3.4 3.612499999999997 0 0 1 307.3 374.95 A3.4 3.612499999999997 0 0 1 307.3 382.17499999999995 A3.4 3.612499999999997 0 0 1 307.3 389.4" fill="none" stroke="#20208e" stroke-width="1.0"/>
<path d="M307.50 389.50 L307.50 394.50 L288.50 394.50" fill="none" stroke="#15152e" stroke-width="1.1" />
<circle cx="288.4" cy="394.4" r="1.1" fill="#7a3a3a"/>
<path d="M312.50 355.50 L312.50 394.50" fill="none" stroke="#20208e" stroke-width="1.0" />
<path d="M314.50 355.50 L314.50 394.50" fill="none" stroke="#20208e" stroke-width="1.0" />
<path d="M319.2 359.5 A3.2 3.987499999999997 0 0 0 319.2 367.475 A3.2 3.987499999999997 0 0 0 319.2 375.45" fill="none" stroke="#20208e" stroke-width="1.0"/>
<path d="M319.2 375.45 A3.2 3.987499999999997 0 0 0 319.2 383.42499999999995 A3.2 3.987499999999997 0 0 0 319.2 391.4" fill="none" stroke="#20208e" stroke-width="1.0"/>
<path d="M319.50 359.50 L319.50 356.50 L366.50 356.50 L366.50 368.50 L374.50 368.50" fill="none" stroke="#15152e" stroke-width="1.1" />
<path d="M319.50 391.50 L319.50 394.50 L366.50 394.50 L366.50 380.50 L374.50 380.50" fill="none" stroke="#15152e" stroke-width="1.1" />
<path d="M319.50 375.50 L338.50 375.50 L338.50 397.50 L589.50 397.50" fill="none" stroke="#15152e" stroke-width="1.1" />
<rect x="371.1" y="365.75" width="25.8" height="19.4" rx="9.5" ry="9" fill="none" stroke="#20208e" stroke-width="1.0"/>
<path d="M374.00 368.75 L377.70 371.15" fill="none" stroke="#15152e" stroke-width="0.9" />
<path d="M376.30 373.25 L379.10 370.45" fill="none" stroke="#15152e" stroke-width="0.9" />
<path d="M374.00 380.95 L377.70 378.35" fill="none" stroke="#15152e" stroke-width="0.9" />
<path d="M376.30 377.45 L379.60 380.25" fill="none" stroke="#15152e" stroke-width="0.9" />
<path d="M392.20 372.05 L388.40 372.05 L388.40 379.35" fill="none" stroke="#15152e" stroke-width="0.9" />
<path d="M396.40 371.35 L392.70 375.05 L396.40 376.95" fill="none" stroke="#20208e" stroke-width="0.9" />
<text x="375.9" y="390.45" font-family="Liberation Serif" font-size="5.6" fill="#2c2c48" font-weight="normal" text-anchor="start" stroke="#2c2c48" stroke-width="0.22">6X5GT</text>
<path d="M394.50 368.50 L401.50 368.50 L401.50 356.50 L589.50 356.50" fill="none" stroke="#15152e" stroke-width="1.1" />
<path d="M396.50 373.65 L401.60 373.65 L407.50 368.25" fill="none" stroke="#20208e" stroke-width="0.9" />
<path d="M396.50 377.35 L401.60 377.35 L407.50 372.05" fill="none" stroke="#20208e" stroke-width="0.9" />
<path d="M254.50 407.50 L307.50 407.50 L307.50 411.50" fill="none" stroke="#15152e" stroke-width="1.1" />
<circle cx="254" cy="407" r="1.1" fill="#7a3a3a"/>
<path d="M307.3 411 A3.4 3.6000000000000014 0 0 1 307.3 418.2 A3.4 3.6000000000000014 0 0 1 307.3 425.4 A3.4 3.6000000000000014 0 0 1 307.3 432.6 A3.4 3.6000000000000014 0 0 1 307.3 439.8" fill="none" stroke="#20208e" stroke-width="1.0"/>
<path d="M307.50 439.50 L307.50 444.50 L288.50 444.50" fill="none" stroke="#15152e" stroke-width="1.1" />
<circle cx="288.4" cy="444.8" r="1.1" fill="#7a3a3a"/>
<path d="M312.50 406.50 L312.50 445.50" fill="none" stroke="#20208e" stroke-width="1.0" />
<path d="M314.50 406.50 L314.50 445.50" fill="none" stroke="#20208e" stroke-width="1.0" />
<path d="M319.2 410 A3.2 3.9749999999999943 0 0 0 319.2 417.95 A3.2 3.9749999999999943 0 0 0 319.2 425.9" fill="none" stroke="#20208e" stroke-width="1.0"/>
<path d="M319.2 425.9 A3.2 3.9750000000000085 0 0 0 319.2 433.85 A3.2 3.9750000000000085 0 0 0 319.2 441.8" fill="none" stroke="#20208e" stroke-width="1.0"/>
<path d="M319.50 410.50 L319.50 407.50 L366.50 407.50 L366.50 419.50 L374.50 419.50" fill="none" stroke="#15152e" stroke-width="1.1" />
<path d="M319.50 441.50 L319.50 444.50 L366.50 444.50 L366.50 431.50 L374.50 431.50" fill="none" stroke="#15152e" stroke-width="1.1" />
<path d="M319.50 425.50 L338.50 425.50 L338.50 403.50 L589.50 403.50" fill="none" stroke="#15152e" stroke-width="1.1" />
<rect x="371.1" y="416.2" width="25.8" height="19.4" rx="9.5" ry="9" fill="none" stroke="#20208e" stroke-width="1.0"/>
<path d="M374.00 419.20 L377.70 421.60" fill="none" stroke="#15152e" stroke-width="0.9" />
<path d="M376.30 423.70 L379.10 420.90" fill="none" stroke="#15152e" stroke-width="0.9" />
<path d="M374.00 431.40 L377.70 428.80" fill="none" stroke="#15152e" stroke-width="0.9" />
<path d="M376.30 427.90 L379.60 430.70" fill="none" stroke="#15152e" stroke-width="0.9" />
<path d="M392.20 422.50 L388.40 422.50 L388.40 429.80" fill="none" stroke="#15152e" stroke-width="0.9" />
<path d="M396.40 421.80 L392.70 425.50 L396.40 427.40" fill="none" stroke="#20208e" stroke-width="0.9" />
<text x="375.9" y="440.9" font-family="Liberation Serif" font-size="5.6" fill="#2c2c48" font-weight="normal" text-anchor="start" stroke="#2c2c48" stroke-width="0.22">6X5GT</text>
<path d="M394.50 432.50 L401.50 432.50 L401.50 444.50 L589.50 444.50" fill="none" stroke="#15152e" stroke-width="1.1" />
<path d="M396.50 424.10 L401.60 424.10 L407.50 418.70" fill="none" stroke="#20208e" stroke-width="0.9" />
<path d="M396.50 427.80 L401.60 427.80 L407.50 422.50" fill="none" stroke="#20208e" stroke-width="0.9" />
<path d="M432.50 356.50 L432.50 397.50" fill="none" stroke="#15152e" stroke-width="1.1" />
<circle cx="432.9" cy="356.2" r="0.9" fill="#7a3a3a"/>
<circle cx="432.9" cy="397.4" r="0.9" fill="#7a3a3a"/>
<path d="M427.50 374.50 L438.50 374.50" fill="none" stroke="#20208e" stroke-width="1.2" />
<path d="M427.50 376.50 L438.50 376.50" fill="none" stroke="#20208e" stroke-width="1.2" />
<text x="435.6" y="382.5" font-family="Liberation Serif" font-size="5.6" fill="#2c2c48" font-weight="normal" text-anchor="start" stroke="#2c2c48" stroke-width="0.22">4u4</text>
<path d="M401.50 356.50 L445.50 356.50" fill="none" stroke="#15152e" stroke-width="1.1" />
<path d="M445.2 356.2 A3.137500000000003 2.4 0 0 1 451.475 356.2 A3.137500000000003 2.4 0 0 1 457.75 356.2 A3.137500000000003 2.4 0 0 1 464.025 356.2 A3.137500000000003 2.4 0 0 1 470.3 356.2" fill="none" stroke="#20208e" stroke-width="1.0"/>
<path d="M445.50 363.50 L470.50 363.50" fill="none" stroke="#20208e" stroke-width="1.1" />
<path d="M445.50 365.50 L470.50 365.50" fill="none" stroke="#20208e" stroke-width="1.1" />
<text x="451" y="347.5" font-family="Liberation Serif" font-size="5.6" fill="#2c2c48" font-weight="normal" text-anchor="start" stroke="#2c2c48" stroke-width="0.22">L1</text>
<text x="451.3" y="353" font-family="Liberation Serif" font-size="5.6" fill="#2c2c48" font-weight="normal" text-anchor="start" stroke="#2c2c48" stroke-width="0.22">1001</text>
<path d="M470.50 356.50 L589.50 356.50" fill="none" stroke="#15152e" stroke-width="1.1" />
<path d="M486.50 356.50 L486.50 397.50" fill="none" stroke="#15152e" stroke-width="1.1" />
<circle cx="486.6" cy="356.2" r="0.9" fill="#7a3a3a"/>
<circle cx="486.6" cy="397.4" r="0.9" fill="#7a3a3a"/>
<path d="M486.50 366.50 L473.50 366.50 L473.50 385.50 L486.50 385.50" fill="none" stroke="#15152e" stroke-width="1.1" />
<path d="M468.50 371.50 L478.50 371.50" fill="none" stroke="#20208e" stroke-width="1.2" />
<path d="M468.50 374.50 L478.50 374.50" fill="none" stroke="#20208e" stroke-width="1.2" />
<path d="M481.50 371.50 L491.50 371.50" fill="none" stroke="#20208e" stroke-width="1.2" />
<path d="M481.50 374.50 L491.50 374.50" fill="none" stroke="#20208e" stroke-width="1.2" />
<path d="M489.50 368.50 L491.50 368.50" fill="none" stroke="#15152e" stroke-width="0.8" />
<path d="M490.50 366.50 L490.50 369.50" fill="none" stroke="#15152e" stroke-width="0.8" />
<text x="469.0" y="389.5" font-family="Liberation Serif" font-size="5.6" fill="#2c2c48" font-weight="normal" text-anchor="start" stroke="#2c2c48" stroke-width="0.22">0u1</text>
<text x="487.6" y="389.5" font-family="Liberation Serif" font-size="5.6" fill="#2c2c48" font-weight="normal" text-anchor="start" stroke="#2c2c48" stroke-width="0.22">100u</text>
<path d="M520.50 356.50 L520.50 397.50" fill="none" stroke="#15152e" stroke-width="1.1" />
<circle cx="520.6" cy="356.2" r="0.9" fill="#7a3a3a"/>
<circle cx="520.6" cy="397.4" r="0.9" fill="#7a3a3a"/>
<path d="M520.50 366.50 L508.50 366.50 L508.50 385.50 L520.50 385.50" fill="none" stroke="#15152e" stroke-width="1.1" />
<path d="M503.50 371.50 L513.50 371.50" fill="none" stroke="#20208e" stroke-width="1.2" />
<path d="M503.50 374.50 L513.50 374.50" fill="none" stroke="#20208e" stroke-width="1.2" />
<path d="M515.50 371.50 L525.50 371.50" fill="none" stroke="#20208e" stroke-width="1.2" />
<path d="M515.50 374.50 L525.50 374.50" fill="none" stroke="#20208e" stroke-width="1.2" />
<path d="M523.50 368.50 L525.50 368.50" fill="none" stroke="#15152e" stroke-width="0.8" />
<path d="M524.50 366.50 L524.50 369.50" fill="none" stroke="#15152e" stroke-width="0.8" />
<text x="504.0" y="389.5" font-family="Liberation Serif" font-size="5.6" fill="#2c2c48" font-weight="normal" text-anchor="start" stroke="#2c2c48" stroke-width="0.22">0u1</text>
<text x="521.6" y="389.5" font-family="Liberation Serif" font-size="5.6" fill="#2c2c48" font-weight="normal" text-anchor="start" stroke="#2c2c48" stroke-width="0.22">100u</text>
<path d="M555.50 356.50 L555.50 397.50" fill="none" stroke="#15152e" stroke-width="1.1" />
<circle cx="555.6" cy="356.2" r="0.9" fill="#7a3a3a"/>
<circle cx="555.6" cy="397.4" r="0.9" fill="#7a3a3a"/>
<path d="M555.50 366.50 L543.50 366.50 L543.50 385.50 L555.50 385.50" fill="none" stroke="#15152e" stroke-width="1.1" />
<path d="M538.50 371.50 L548.50 371.50" fill="none" stroke="#20208e" stroke-width="1.2" />
<path d="M538.50 374.50 L548.50 374.50" fill="none" stroke="#20208e" stroke-width="1.2" />
<path d="M550.50 371.50 L560.50 371.50" fill="none" stroke="#20208e" stroke-width="1.2" />
<path d="M550.50 374.50 L560.50 374.50" fill="none" stroke="#20208e" stroke-width="1.2" />
<path d="M558.50 368.50 L560.50 368.50" fill="none" stroke="#15152e" stroke-width="0.8" />
<path d="M559.50 366.50 L559.50 369.50" fill="none" stroke="#15152e" stroke-width="0.8" />
<text x="538.5" y="389.5" font-family="Liberation Serif" font-size="5.6" fill="#2c2c48" font-weight="normal" text-anchor="start" stroke="#2c2c48" stroke-width="0.22">0u1</text>
<text x="556.6" y="389.5" font-family="Liberation Serif" font-size="5.6" fill="#2c2c48" font-weight="normal" text-anchor="start" stroke="#2c2c48" stroke-width="0.22">100u</text>
<path d="M486.50 356.50 L486.50 361.50 L497.50 361.50" fill="none" stroke="#15152e" stroke-width="1.1" />
<path d="M497.50 361.50 L500.50 361.50 L500.50 358.50 L503.50 359.50 L504.50 356.50 L506.50 356.50" fill="none" stroke="#20208e" stroke-width="1.0" />
<path d="M499.50 361.50 L505.50 354.50" fill="none" stroke="#20208e" stroke-width="0.9" />
<path d="M506.09999999999997 353.6 L503.49999999999994 355.0 L505.49999999999994 356.40000000000003 Z" fill="#20208e"/>
<text x="498.9" y="347.2" font-family="Liberation Serif" font-size="5.6" fill="#2c2c48" font-weight="normal" text-anchor="start" stroke="#2c2c48" stroke-width="0.22">1K</text>
<path d="M520.50 356.50 L520.50 361.50 L533.50 361.50" fill="none" stroke="#15152e" stroke-width="1.1" />
<path d="M533.50 361.50 L535.50 361.50 L535.50 358.50 L538.50 359.50 L538.50 356.50 L540.50 356.50" fill="none" stroke="#20208e" stroke-width="1.0" />
<path d="M533.50 361.50 L539.50 354.50" fill="none" stroke="#20208e" stroke-width="0.9" />
<path d="M540.55 353.6 L537.95 355.0 L539.95 356.40000000000003 Z" fill="#20208e"/>
<text x="534" y="347.2" font-family="Liberation Serif" font-size="5.6" fill="#2c2c48" font-weight="normal" text-anchor="start" stroke="#2c2c48" stroke-width="0.22">1K</text>
<path d="M577.50 356.50 L577.50 397.50" fill="none" stroke="#15152e" stroke-width="1.1" />
<circle cx="577" cy="356.2" r="0.9" fill="#7a3a3a"/>
<circle cx="577" cy="397.4" r="0.9" fill="#7a3a3a"/>
<rect x="574.5" y="369.5" width="5.0" height="12.0" fill="#fffcf5" stroke="#15152e" stroke-width="1.0" rx="0"/>
<text x="581.3" y="377" font-family="Liberation Serif" font-size="5.6" fill="#2c2c48" font-weight="normal" text-anchor="start" stroke="#2c2c48" stroke-width="0.22">100K</text>
<path d="M432.50 444.50 L432.50 403.50" fill="none" stroke="#15152e" stroke-width="1.1" />
<circle cx="432.9" cy="444.3" r="0.9" fill="#7a3a3a"/>
<circle cx="432.9" cy="403.6" r="0.9" fill="#7a3a3a"/>
<path d="M427.50 424.50 L438.50 424.50" fill="none" stroke="#20208e" stroke-width="1.2" />
<path d="M427.50 426.50 L438.50 426.50" fill="none" stroke="#20208e" stroke-width="1.2" />
<text x="435.6" y="432.4" font-family="Liberation Serif" font-size="5.6" fill="#2c2c48" font-weight="normal" text-anchor="start" stroke="#2c2c48" stroke-width="0.22">4u4</text>
<path d="M401.50 444.50 L445.50 444.50" fill="none" stroke="#15152e" stroke-width="1.1" />
<path d="M445.2 444.3 A3.137500000000003 2.4 0 0 0 451.475 444.3 A3.137500000000003 2.4 0 0 0 457.75 444.3 A3.137500000000003 2.4 0 0 0 464.025 444.3 A3.137500000000003 2.4 0 0 0 470.3 444.3" fill="none" stroke="#20208e" stroke-width="1.0"/>
<path d="M445.50 435.50 L470.50 435.50" fill="none" stroke="#20208e" stroke-width="1.1" />
<path d="M445.50 437.50 L470.50 437.50" fill="none" stroke="#20208e" stroke-width="1.1" />
<text x="451" y="450.5" font-family="Liberation Serif" font-size="5.6" fill="#2c2c48" font-weight="normal" text-anchor="start" stroke="#2c2c48" stroke-width="0.22">L1</text>
<text x="451.3" y="455.8" font-family="Liberation Serif" font-size="5.6" fill="#2c2c48" font-weight="normal" text-anchor="start" stroke="#2c2c48" stroke-width="0.22">1001</text>
<path d="M470.50 444.50 L589.50 444.50" fill="none" stroke="#15152e" stroke-width="1.1" />
<path d="M486.50 444.50 L486.50 403.50" fill="none" stroke="#15152e" stroke-width="1.1" />
<circle cx="486.6" cy="444.3" r="0.9" fill="#7a3a3a"/>
<circle cx="486.6" cy="403.6" r="0.9" fill="#7a3a3a"/>
<path d="M486.50 413.50 L473.50 413.50 L473.50 432.50 L486.50 432.50" fill="none" stroke="#15152e" stroke-width="1.1" />
<path d="M468.50 421.50 L478.50 421.50" fill="none" stroke="#20208e" stroke-width="1.2" />
<path d="M468.50 424.50 L478.50 424.50" fill="none" stroke="#20208e" stroke-width="1.2" />
<path d="M481.50 421.50 L491.50 421.50" fill="none" stroke="#20208e" stroke-width="1.2" />
<path d="M481.50 424.50 L491.50 424.50" fill="none" stroke="#20208e" stroke-width="1.2" />
<path d="M489.50 428.50 L491.50 428.50" fill="none" stroke="#15152e" stroke-width="0.8" />
<path d="M490.50 426.50 L490.50 429.50" fill="none" stroke="#15152e" stroke-width="0.8" />
<text x="469.0" y="410" font-family="Liberation Serif" font-size="5.6" fill="#2c2c48" font-weight="normal" text-anchor="start" stroke="#2c2c48" stroke-width="0.22">0u1</text>
<text x="487.6" y="410" font-family="Liberation Serif" font-size="5.6" fill="#2c2c48" font-weight="normal" text-anchor="start" stroke="#2c2c48" stroke-width="0.22">100u</text>
<path d="M520.50 444.50 L520.50 403.50" fill="none" stroke="#15152e" stroke-width="1.1" />
<circle cx="520.6" cy="444.3" r="0.9" fill="#7a3a3a"/>
<circle cx="520.6" cy="403.6" r="0.9" fill="#7a3a3a"/>
<path d="M520.50 413.50 L508.50 413.50 L508.50 432.50 L520.50 432.50" fill="none" stroke="#15152e" stroke-width="1.1" />
<path d="M503.50 421.50 L513.50 421.50" fill="none" stroke="#20208e" stroke-width="1.2" />
<path d="M503.50 424.50 L513.50 424.50" fill="none" stroke="#20208e" stroke-width="1.2" />
<path d="M515.50 421.50 L525.50 421.50" fill="none" stroke="#20208e" stroke-width="1.2" />
<path d="M515.50 424.50 L525.50 424.50" fill="none" stroke="#20208e" stroke-width="1.2" />
<path d="M523.50 428.50 L525.50 428.50" fill="none" stroke="#15152e" stroke-width="0.8" />
<path d="M524.50 426.50 L524.50 429.50" fill="none" stroke="#15152e" stroke-width="0.8" />
<text x="504.0" y="410" font-family="Liberation Serif" font-size="5.6" fill="#2c2c48" font-weight="normal" text-anchor="start" stroke="#2c2c48" stroke-width="0.22">0u1</text>
<text x="521.6" y="410" font-family="Liberation Serif" font-size="5.6" fill="#2c2c48" font-weight="normal" text-anchor="start" stroke="#2c2c48" stroke-width="0.22">100u</text>
<path d="M555.50 444.50 L555.50 403.50" fill="none" stroke="#15152e" stroke-width="1.1" />
<circle cx="555.6" cy="444.3" r="0.9" fill="#7a3a3a"/>
<circle cx="555.6" cy="403.6" r="0.9" fill="#7a3a3a"/>
<path d="M555.50 413.50 L543.50 413.50 L543.50 432.50 L555.50 432.50" fill="none" stroke="#15152e" stroke-width="1.1" />
<path d="M538.50 421.50 L548.50 421.50" fill="none" stroke="#20208e" stroke-width="1.2" />
<path d="M538.50 424.50 L548.50 424.50" fill="none" stroke="#20208e" stroke-width="1.2" />
<path d="M550.50 421.50 L560.50 421.50" fill="none" stroke="#20208e" stroke-width="1.2" />
<path d="M550.50 424.50 L560.50 424.50" fill="none" stroke="#20208e" stroke-width="1.2" />
<path d="M558.50 428.50 L560.50 428.50" fill="none" stroke="#15152e" stroke-width="0.8" />
<path d="M559.50 426.50 L559.50 429.50" fill="none" stroke="#15152e" stroke-width="0.8" />
<text x="538.5" y="410" font-family="Liberation Serif" font-size="5.6" fill="#2c2c48" font-weight="normal" text-anchor="start" stroke="#2c2c48" stroke-width="0.22">0u1</text>
<text x="556.6" y="410" font-family="Liberation Serif" font-size="5.6" fill="#2c2c48" font-weight="normal" text-anchor="start" stroke="#2c2c48" stroke-width="0.22">100u</text>
<path d="M486.50 444.50 L486.50 449.50 L497.50 449.50" fill="none" stroke="#15152e" stroke-width="1.1" />
<path d="M497.50 449.50 L500.50 449.50 L500.50 446.50 L503.50 447.50 L504.50 444.50 L506.50 444.50" fill="none" stroke="#20208e" stroke-width="1.0" />
<path d="M499.50 449.50 L505.50 442.50" fill="none" stroke="#20208e" stroke-width="0.9" />
<path d="M506.09999999999997 441.70000000000005 L503.49999999999994 443.1 L505.49999999999994 444.50000000000006 Z" fill="#20208e"/>
<text x="498.9" y="454.8" font-family="Liberation Serif" font-size="5.6" fill="#2c2c48" font-weight="normal" text-anchor="start" stroke="#2c2c48" stroke-width="0.22">1K</text>
<path d="M520.50 444.50 L520.50 449.50 L533.50 449.50" fill="none" stroke="#15152e" stroke-width="1.1" />
<path d="M533.50 449.50 L535.50 449.50 L535.50 446.50 L538.50 447.50 L538.50 444.50 L540.50 444.50" fill="none" stroke="#20208e" stroke-width="1.0" />
<path d="M533.50 449.50 L539.50 442.50" fill="none" stroke="#20208e" stroke-width="0.9" />
<path d="M540.55 441.70000000000005 L537.95 443.1 L539.95 444.50000000000006 Z" fill="#20208e"/>
<text x="534" y="454.8" font-family="Liberation Serif" font-size="5.6" fill="#2c2c48" font-weight="normal" text-anchor="start" stroke="#2c2c48" stroke-width="0.22">1K</text>
<path d="M577.50 444.50 L577.50 403.50" fill="none" stroke="#15152e" stroke-width="1.1" />
<circle cx="577" cy="444.3" r="0.9" fill="#7a3a3a"/>
<circle cx="577" cy="403.6" r="0.9" fill="#7a3a3a"/>
<rect x="574.5" y="417.5" width="5.0" height="12.0" fill="#fffcf5" stroke="#15152e" stroke-width="1.0" rx="0"/>
<text x="581.3" y="427" font-family="Liberation Serif" font-size="5.6" fill="#2c2c48" font-weight="normal" text-anchor="start" stroke="#2c2c48" stroke-width="0.22">100K</text>
<path d="M457.50 367.50 L457.50 434.50" fill="none" stroke="#b04040" stroke-width="0.8" stroke-dasharray="3 2"/>
<path d="M589.50 353.40 L614.30 353.40 L617.50 356.60 L614.30 359.80 L589.50 359.80 Z" fill="#fbec7e" stroke="#3a3010" stroke-width="1.0"/>
<text x="602.9" y="358.48999999999995" font-family="Liberation Serif" font-size="5.4" fill="#2a2210" font-weight="normal" text-anchor="middle" stroke="#2a2210" stroke-width="0.22">L+B</text>
<path d="M589.50 394.40 L612.50 394.40 L615.50 397.40 L612.50 400.40 L589.50 400.40 Z" fill="#fbec7e" stroke="#3a3010" stroke-width="1.0"/>
<text x="602.0" y="399.21999999999997" font-family="Liberation Serif" font-size="5.2" fill="#2a2210" font-weight="normal" text-anchor="middle" stroke="#2a2210" stroke-width="0.22">L GND</text>
<path d="M589.50 400.60 L612.50 400.60 L615.50 403.60 L612.50 406.60 L589.50 406.60 Z" fill="#fbec7e" stroke="#3a3010" stroke-width="1.0"/>
<text x="602.0" y="405.42" font-family="Liberation Serif" font-size="5.2" fill="#2a2210" font-weight="normal" text-anchor="middle" stroke="#2a2210" stroke-width="0.22">R GND</text>
<path d="M589.50 441.20 L614.30 441.20 L617.50 444.40 L614.30 447.60 L589.50 447.60 Z" fill="#fbec7e" stroke="#3a3010" stroke-width="1.0"/>
<text x="602.9" y="446.28999999999996" font-family="Liberation Serif" font-size="5.4" fill="#2a2210" font-weight="normal" text-anchor="middle" stroke="#2a2210" stroke-width="0.22">R+B</text>
<path d="M617.50 356.50 L630.50 356.50 L630.50 243.50 L647.50 243.50" fill="none" stroke="#15152e" stroke-width="1.1" />
<path d="M617.50 444.50 L639.50 444.50 L639.50 287.50 L647.50 287.50" fill="none" stroke="#15152e" stroke-width="1.1" />
<path d="M288.50 464.50 L288.50 394.50" fill="none" stroke="#15152e" stroke-width="1.1" />
<circle cx="275.9" cy="466.2" r="1.9" fill="#fffcf5" stroke="#20208e" stroke-width="1.15"/>
<circle cx="288.5" cy="466.2" r="1.9" fill="#fffcf5" stroke="#20208e" stroke-width="1.15"/>
<circle cx="282.3" cy="478.7" r="1.9" fill="#fffcf5" stroke="#20208e" stroke-width="1.15"/>
<path d="M282.50 477.50 L277.50 467.50" fill="none" stroke="#20208e" stroke-width="1.5" />
<path d="M284.50 472.50 L294.50 472.50" fill="none" stroke="#15152e" stroke-width="0.9" stroke-dasharray="2 1.5"/>
<rect x="294.5" y="467.5" width="13.0" height="9.0" fill="none" stroke="#15152e" stroke-width="1.1" rx="0"/>
<path d="M296.50 475.50 L306.50 468.50" fill="none" stroke="#15152e" stroke-width="0.9" />
<path d="M301.50 467.50 L301.50 460.50 L335.50 460.50 L335.50 479.50 L647.50 479.50" fill="none" stroke="#15152e" stroke-width="1.1" />
<path d="M301.50 476.50 L301.50 490.50" fill="none" stroke="#15152e" stroke-width="1.1" />
<path d="M297.50 490.50 L305.50 490.50" fill="none" stroke="#15152e" stroke-width="1.2" />
<path d="M282.50 480.50 L282.50 505.50" fill="none" stroke="#15152e" stroke-width="1.1" />
<circle cx="282.3" cy="507.4" r="1.9" fill="#fffcf5" stroke="#20208e" stroke-width="1.15"/>
<circle cx="282.3" cy="519" r="1.9" fill="#fffcf5" stroke="#20208e" stroke-width="1.15"/>
<path d="M276.50 507.50 L281.50 517.50" fill="none" stroke="#20208e" stroke-width="1.5" />
<path d="M284.50 513.50 L294.50 513.50" fill="none" stroke="#15152e" stroke-width="0.9" stroke-dasharray="2 1.5"/>
<rect x="294.5" y="508.5" width="13.0" height="9.0" fill="none" stroke="#15152e" stroke-width="1.1" rx="0"/>
<path d="M296.50 515.50 L306.50 510.50" fill="none" stroke="#15152e" stroke-width="0.9" />
<path d="M301.50 517.50 L301.50 520.50" fill="none" stroke="#15152e" stroke-width="1.1" />
<text x="310.8" y="511.9" font-family="Liberation Serif" font-size="8.3" fill="#1a1a4a" font-weight="bold" text-anchor="start">HV</text>
<path d="M307.50 513.50 L407.50 513.50 L407.50 541.50 L376.50 541.50" fill="none" stroke="#15152e" stroke-width="1.1" />
<path d="M282.50 520.50 L282.50 529.50 L222.50 529.50" fill="none" stroke="#15152e" stroke-width="1.1" />
<circle cx="222.5" cy="529.1" r="1.1" fill="#7a3a3a"/>
<path d="M194.50 538.50 L294.50 538.50 L294.50 544.50" fill="none" stroke="#15152e" stroke-width="1.1" />
<circle cx="222.5" cy="538.8" r="1.1" fill="#7a3a3a"/>
<path d="M294.9 544.2 A3.4 3.3999999999999915 0 0 1 294.9 551.0 A3.4 3.3999999999999915 0 0 1 294.9 557.8 A3.4 3.3999999999999915 0 0 1 294.9 564.6 A3.4 3.3999999999999915 0 0 1 294.9 571.4" fill="none" stroke="#20208e" stroke-width="1.0"/>
<path d="M294.50 571.50 L294.50 576.50 L194.50 576.50" fill="none" stroke="#15152e" stroke-width="1.1" />
<circle cx="254" cy="576.2" r="1.1" fill="#7a3a3a"/>
<path d="M299.50 538.50 L299.50 576.50" fill="none" stroke="#20208e" stroke-width="1.0" />
<path d="M302.50 538.50 L302.50 576.50" fill="none" stroke="#20208e" stroke-width="1.0" />
<path d="M319.50 545.50 L307.50 545.50" fill="none" stroke="#15152e" stroke-width="1.1" />
<path d="M307.5 545.2 A3.2 3.1499999999999915 0 0 0 307.5 551.5 A3.2 3.1499999999999915 0 0 0 307.5 557.8 A3.2 3.1499999999999915 0 0 0 307.5 564.1 A3.2 3.1499999999999915 0 0 0 307.5 570.4" fill="none" stroke="#20208e" stroke-width="1.0"/>
<path d="M307.50 570.50 L319.50 570.50" fill="none" stroke="#15152e" stroke-width="1.1" />
<text x="285.8" y="583" font-family="Liberation Serif" font-size="5.6" fill="#2c2c48" font-weight="normal" text-anchor="start" stroke="#2c2c48" stroke-width="0.22">Tr6</text>
<text x="284.5" y="588.5" font-family="Liberation Serif" font-size="5.6" fill="#2c2c48" font-weight="normal" text-anchor="start" stroke="#2c2c48" stroke-width="0.22">12VAC/10VA</text>
<rect x="319.5" y="526.5" width="82.0" height="63.0" fill="#fefcaa" stroke="#2a2418" stroke-width="1.1" rx="0"/>
<rect x="323.5" y="538.5" width="37.0" height="38.0" fill="#c3c3c3" stroke="#2a2a60" stroke-width="1.1" rx="11"/>
<path d="M319.50 557.50 L323.50 557.50" fill="none" stroke="#15152e" stroke-width="1.1" />
<path d="M360.50 557.50 L364.50 557.50" fill="none" stroke="#15152e" stroke-width="1.1" />
<text x="329" y="559" font-family="Liberation Serif" font-size="4" fill="#555" font-weight="normal" text-anchor="start" stroke="#555" stroke-width="0.22">+</text>
<text x="354" y="559" font-family="Liberation Serif" font-size="4" fill="#555" font-weight="normal" text-anchor="start" stroke="#555" stroke-width="0.22">-</text>
<path d="M363.4 535.5 L376 541.6 L363.4 547.7 Z" fill="#f2c8a0" stroke="#2a2a6a" stroke-width="1.0"/>
<path d="M366.4 538.6 L370.9 541.6 L366.4 544.6 Z" fill="none" stroke="#c04040" stroke-width="0.8"/>
<path d="M363.4 567.1 L376 573.1 L363.4 579.1 Z" fill="#f2c8a0" stroke="#2a2a6a" stroke-width="1.0"/>
<path d="M366.4 570.1 L370.9 573.1 L366.4 576.1 Z" fill="none" stroke="#c04040" stroke-width="0.8"/>
<text x="380.2" y="541" font-family="Liberation Serif" font-size="5.6" fill="#2c2c48" font-weight="normal" text-anchor="start" stroke="#2c2c48" stroke-width="0.22">T=4.5s</text>
<text x="364.7" y="552.5" font-family="Liberation Serif" font-size="5.6" fill="#2c2c48" font-weight="normal" text-anchor="start" stroke="#2c2c48" stroke-width="0.22">HV timer</text>
<text x="373.5" y="568.5" font-family="Liberation Serif" font-size="5.6" fill="#2c2c48" font-weight="normal" text-anchor="start" stroke="#2c2c48" stroke-width="0.22">T=45s-15s</text>
<text x="364.7" y="583.5" font-family="Liberation Serif" font-size="5.6" fill="#2c2c48" font-weight="normal" text-anchor="start" stroke="#2c2c48" stroke-width="0.22">MUTE timer</text>
<path d="M376.50 573.50 L767.50 573.50 L767.50 548.50 L1072.50 548.50" fill="none" stroke="#15152e" stroke-width="1.1" />
<path d="M341.50 576.50 L341.50 623.50 L351.50 623.50" fill="none" stroke="#15152e" stroke-width="1.1" />
<rect x="351.5" y="607.5" width="59.0" height="29.0" fill="#fefcaa" stroke="#2a2418" stroke-width="1.0" rx="0"/>
<text x="380.9" y="624.5" font-family="Liberation Serif" font-size="5.8" fill="#2a2a2a" font-weight="normal" text-anchor="middle" stroke="#2a2a2a" stroke-width="0.22">volume remout control</text>
<path d="M94.20 535.50 L110.05 535.50 L113.20 538.65 L110.05 541.80 L94.20 541.80 Z" fill="#fbec7e" stroke="#3a3010" stroke-width="1.0"/>
<text x="103.125" y="540.4" font-family="Liberation Serif" font-size="5" fill="#2a2210" font-weight="normal" text-anchor="middle" stroke="#2a2210" stroke-width="0.22">F</text>
<path d="M94.20 573.10 L110.05 573.10 L113.20 576.25 L110.05 579.40 L94.20 579.40 Z" fill="#fbec7e" stroke="#3a3010" stroke-width="1.0"/>
<text x="103.125" y="578.0" font-family="Liberation Serif" font-size="5" fill="#2a2210" font-weight="normal" text-anchor="middle" stroke="#2a2210" stroke-width="0.22">O</text>
<path d="M113.50 538.50 L125.50 538.50" fill="none" stroke="#15152e" stroke-width="1.1" />
<rect x="125.5" y="536.5" width="19.0" height="4.0" fill="#fffcf5" stroke="#20208e" stroke-width="1.0" rx="0"/>
<text x="125" y="533.5" font-family="Liberation Serif" font-size="5" fill="#2c2c48" font-weight="normal" text-anchor="start" stroke="#2c2c48" stroke-width="0.22">Fuse</text>
<path d="M144.50 538.50 L156.50 538.50 L156.50 548.50 L170.50 548.50" fill="none" stroke="#15152e" stroke-width="1.1" />
<path d="M113.50 576.50 L156.50 576.50 L156.50 560.50 L170.50 560.50" fill="none" stroke="#15152e" stroke-width="1.1" />
<path d="M171.50 548.50 L182.50 541.50" fill="none" stroke="#20208e" stroke-width="1.0" />
<circle cx="170.8" cy="548.2" r="0.9" fill="#20208e"/>
<circle cx="181.4" cy="548.2" r="0.9" fill="#20208e"/>
<path d="M181.50 548.50 L194.50 548.50" fill="none" stroke="#15152e" stroke-width="1.1" />
<path d="M171.50 560.50 L182.50 553.50" fill="none" stroke="#20208e" stroke-width="1.0" />
<circle cx="170.8" cy="560.3" r="0.9" fill="#20208e"/>
<circle cx="181.4" cy="560.3" r="0.9" fill="#20208e"/>
<path d="M181.50 560.50 L194.50 560.50" fill="none" stroke="#15152e" stroke-width="1.1" />
<path d="M194.50 548.50 L194.50 538.50" fill="none" stroke="#15152e" stroke-width="1.1" />
<path d="M194.50 560.50 L194.50 576.50 L254.50 576.50" fill="none" stroke="#15152e" stroke-width="1.1" />
<path d="M175.50 546.50 L175.50 560.50" fill="none" stroke="#20208e" stroke-width="0.8" stroke-dasharray="2 1.5"/>
<text x="163.2" y="593.5" font-family="Liberation Serif" font-size="9.8" fill="#b53c3a" font-weight="bold" text-anchor="start">P1</text>
<text x="160" y="603.5" font-family="Liberation Serif" font-size="9.6" fill="#1a1a4a" font-weight="bold" text-anchor="start">ON/OFF</text>
<circle cx="649" cy="466.4" r="1.9" fill="#fffcf5" stroke="#20208e" stroke-width="1.15"/>
<path d="M641.50 464.50 L645.50 468.50" fill="none" stroke="#d04040" stroke-width="0.9" />
<path d="M641.50 468.50 L645.50 464.50" fill="none" stroke="#d04040" stroke-width="0.9" />
<text x="636.6" y="465" font-family="Liberation Serif" font-size="5.6" fill="#2c2c48" font-weight="normal" text-anchor="start" stroke="#2c2c48" stroke-width="0.22">4</text>
<text x="636.6" y="477.5" font-family="Liberation Serif" font-size="5.6" fill="#2c2c48" font-weight="normal" text-anchor="start" stroke="#2c2c48" stroke-width="0.22">2</text>
<text x="633" y="502.5" font-family="Liberation Serif" font-size="5.6" fill="#2c2c48" font-weight="normal" text-anchor="start" stroke="#2c2c48" stroke-width="0.22">10</text>
<text x="636.6" y="515" font-family="Liberation Serif" font-size="5.6" fill="#2c2c48" font-weight="normal" text-anchor="start" stroke="#2c2c48" stroke-width="0.22">8</text>
<path d="M649.50 468.50 L661.50 472.50" fill="none" stroke="#20208e" stroke-width="1.5" />
<circle cx="661.7" cy="472.8" r="1.9" fill="#fffcf5" stroke="#20208e" stroke-width="1.15"/>
<circle cx="649" cy="479.3" r="1.9" fill="#fffcf5" stroke="#20208e" stroke-width="1.15"/>
<circle cx="649" cy="504.1" r="1.9" fill="#fffcf5" stroke="#20208e" stroke-width="1.15"/>
<path d="M649.50 505.50 L661.50 510.50" fill="none" stroke="#20208e" stroke-width="1.5" />
<circle cx="661.7" cy="510.6" r="1.9" fill="#fffcf5" stroke="#20208e" stroke-width="1.15"/>
<circle cx="649" cy="516.7" r="1.9" fill="#fffcf5" stroke="#20208e" stroke-width="1.15"/>
<path d="M663.50 472.50 L668.50 472.50 L668.50 510.50 L663.50 510.50" fill="none" stroke="#15152e" stroke-width="1.1" />
<circle cx="668.5" cy="491.3" r="0.9" fill="#7a3a3a"/>
<path d="M668.50 491.50 L686.50 491.50" fill="none" stroke="#15152e" stroke-width="1.1" />
<text x="690.1" y="493.5" font-family="Liberation Serif" font-size="5.6" fill="#2c2c48" font-weight="normal" text-anchor="start" stroke="#2c2c48" stroke-width="0.22">+12V</text>
<text x="673.3" y="471.5" font-family="Liberation Serif" font-size="5.6" fill="#2c2c48" font-weight="normal" text-anchor="start" stroke="#2c2c48" stroke-width="0.22">13</text>
<text x="673.3" y="508.5" font-family="Liberation Serif" font-size="5.6" fill="#2c2c48" font-weight="normal" text-anchor="start" stroke="#2c2c48" stroke-width="0.22">14</text>
<path d="M654.50 237.50 L654.50 506.50" fill="none" stroke="#15152e" stroke-width="0.9" stroke-dasharray="3 2"/>
<path d="M647.50 504.50 L614.50 504.50" fill="none" stroke="#15152e" stroke-width="1.1" />
<path d="M647.50 516.50 L614.50 516.50" fill="none" stroke="#15152e" stroke-width="1.1" />
<path d="M614.9 504.1 L621.4 500.85 L621.4 507.35 Z" fill="#20208e"/>
<path d="M614.50 500.50 L614.50 507.50" fill="none" stroke="#20208e" stroke-width="1.1" />
<path d="M615.50 506.50 L617.50 509.50" fill="none" stroke="#20208e" stroke-width="0.8" />
<path d="M617.50 506.50 L619.50 509.50" fill="none" stroke="#20208e" stroke-width="0.8" />
<path d="M614.9 516.7 L621.4 513.45 L621.4 519.95 Z" fill="#20208e"/>
<path d="M614.50 513.50 L614.50 519.50" fill="none" stroke="#20208e" stroke-width="1.1" />
<path d="M615.50 519.50 L617.50 521.50" fill="none" stroke="#20208e" stroke-width="0.8" />
<path d="M617.50 519.50 L619.50 521.50" fill="none" stroke="#20208e" stroke-width="0.8" />
<path d="M614.50 504.50 L608.50 504.50 L608.50 516.50 L614.50 516.50" fill="none" stroke="#15152e" stroke-width="1.1" />
<circle cx="608.3" cy="510.4" r="0.9" fill="#7a3a3a"/>
<path d="M608.50 510.50 L592.50 510.50 L592.50 516.50" fill="none" stroke="#15152e" stroke-width="1.1" />
<rect x="590.5" y="516.5" width="5.0" height="13.0" fill="#fffcf5" stroke="#20208e" stroke-width="1.0" rx="0"/>
<text x="593.9" y="523" font-family="Liberation Serif" font-size="3.6" fill="#20208e" font-weight="normal" text-anchor="middle" stroke="#20208e" stroke-width="0.22" transform="rotate(-90 593.9 523)">680R</text>
<path d="M592.50 529.50 L592.50 541.50" fill="none" stroke="#15152e" stroke-width="1.1" />
<path d="M589.50 541.50 L595.50 541.50" fill="none" stroke="#15152e" stroke-width="1.2" />
<text x="608.3" y="493" font-family="Liberation Serif" font-size="5.6" fill="#2c2c48" font-weight="normal" text-anchor="start" stroke="#2c2c48" stroke-width="0.22">green</text>
<text x="608.3" y="498.5" font-family="Liberation Serif" font-size="5.6" fill="#20208e" font-weight="normal" text-anchor="start" stroke="#20208e" stroke-width="0.22">sil ON</text>
<text x="608.3" y="524" font-family="Liberation Serif" font-size="5.6" fill="#2c2c48" font-weight="normal" text-anchor="start" stroke="#2c2c48" stroke-width="0.22">red</text>
<text x="608.3" y="529.5" font-family="Liberation Serif" font-size="5.6" fill="#2c2c48" font-weight="normal" text-anchor="start" stroke="#2c2c48" stroke-width="0.22">val ON</text>
<text x="646.8" y="535.5" font-family="Liberation Serif" font-size="10" fill="#b53c3a" font-weight="bold" text-anchor="start">P2</text>
<text x="645.6" y="544" font-family="Liberation Serif" font-size="10" fill="#1a1a4a" font-weight="bold" text-anchor="start">SIL/TUBE</text>
<circle cx="649.25" cy="231.3" r="1.9" fill="#fffcf5" stroke="#20208e" stroke-width="1.15"/>
<circle cx="649.25" cy="243.8" r="1.9" fill="#fffcf5" stroke="#20208e" stroke-width="1.15"/>
<circle cx="649.25" cy="275.2" r="1.9" fill="#fffcf5" stroke="#20208e" stroke-width="1.15"/>
<circle cx="649.25" cy="287.5" r="1.9" fill="#fffcf5" stroke="#20208e" stroke-width="1.15"/>
<path d="M649.50 232.50 L662.50 237.50" fill="none" stroke="#20208e" stroke-width="1.5" />
<circle cx="662" cy="237.5" r="1.9" fill="#fffcf5" stroke="#20208e" stroke-width="1.15"/>
<path d="M649.50 276.50 L662.50 281.50" fill="none" stroke="#20208e" stroke-width="1.5" />
<circle cx="662" cy="281.3" r="1.9" fill="#fffcf5" stroke="#20208e" stroke-width="1.15"/>
<text x="636.7" y="229.5" font-family="Liberation Serif" font-size="5.6" fill="#2c2c48" font-weight="normal" text-anchor="start" stroke="#2c2c48" stroke-width="0.22">4</text>
<text x="636.7" y="242" font-family="Liberation Serif" font-size="5.6" fill="#2c2c48" font-weight="normal" text-anchor="start" stroke="#2c2c48" stroke-width="0.22">2</text>
<text x="634.5" y="273.5" font-family="Liberation Serif" font-size="5.6" fill="#2c2c48" font-weight="normal" text-anchor="start" stroke="#2c2c48" stroke-width="0.22">10</text>
<text x="636.7" y="285.5" font-family="Liberation Serif" font-size="5.6" fill="#2c2c48" font-weight="normal" text-anchor="start" stroke="#2c2c48" stroke-width="0.22">8</text>
<text x="675.7" y="236" font-family="Liberation Serif" font-size="5.6" fill="#2c2c48" font-weight="normal" text-anchor="start" stroke="#2c2c48" stroke-width="0.22">13</text>
<text x="675.7" y="279.5" font-family="Liberation Serif" font-size="5.6" fill="#2c2c48" font-weight="normal" text-anchor="start" stroke="#2c2c48" stroke-width="0.22">14</text>
<path d="M663.50 237.50 L746.50 237.50" fill="none" stroke="#15152e" stroke-width="1.1" />
<path d="M663.50 281.50 L746.50 281.50" fill="none" stroke="#15152e" stroke-width="1.1" />
<text x="746.3" y="88.8" font-family="Liberation Serif" font-size="7.6" fill="#1a1a4a" font-weight="bold" text-anchor="start">NAPAJANJE</text>
<text x="752.6" y="424.3" font-family="Liberation Serif" font-size="7.4" fill="#1a1a4a" font-weight="bold" text-anchor="start">SIGNAL</text>
<text x="850.3" y="160" font-family="Liberation Serif" font-size="9.8" fill="#b53c3a" font-weight="bold" text-anchor="start">P4</text>
<text x="850.3" y="173.3" font-family="Liberation Serif" font-size="9.9" fill="#1a1a4a" font-weight="bold" text-anchor="start">Shunt ON/OFF</text>
<path d="M746.50 237.50 L746.50 153.50 L840.50 153.50 L840.50 184.50 L854.50 184.50" fill="none" stroke="#15152e" stroke-width="1.1" />
<circle cx="746.3" cy="237.9" r="0.9" fill="#7a3a3a"/>
<path d="M746.50 237.50 L771.50 237.50 L771.50 232.50" fill="none" stroke="#15152e" stroke-width="1.1" />
<text x="765.3" y="163.5" font-family="Liberation Serif" font-size="5.7" fill="#2c2c48" font-weight="normal" text-anchor="start" stroke="#2c2c48" stroke-width="0.22">Salas SHUNT L</text>
<rect x="765.5" y="165.5" width="44.0" height="84.0" fill="#fefcaa" stroke="#2a2418" stroke-width="1.1" rx="0"/>
<rect x="768.5" y="168.5" width="38.0" height="32.0" fill="#c3c3c3" stroke="#2a2a60" stroke-width="1.1" rx="11"/>
<path d="M783.4 178 L795.6 184.2 L783.4 190.4 Z" fill="#e8b8c8" stroke="#20208e" stroke-width="1.0"/>
<text x="785.6" y="186.2" font-family="Liberation Serif" font-size="5.5" fill="#c03030" font-weight="normal" text-anchor="start" stroke="#c03030" stroke-width="0.22">b</text>
<path d="M783.50 184.50 L777.50 184.50 L777.50 216.50" fill="none" stroke="#15152e" stroke-width="1.1" />
<circle cx="777.8" cy="218.4" r="1.9" fill="#fffcf5" stroke="#20208e" stroke-width="1.15"/>
<circle cx="771.6" cy="231.2" r="1.9" fill="#fffcf5" stroke="#20208e" stroke-width="1.15"/>
<circle cx="783.7" cy="231.2" r="1.9" fill="#fffcf5" stroke="#20208e" stroke-width="1.15"/>
<path d="M778.50 220.50 L782.50 229.50" fill="none" stroke="#20208e" stroke-width="1.5" />
<text x="776.5" y="205" font-family="Liberation Serif" font-size="5" fill="#2c2c48" font-weight="normal" text-anchor="middle" stroke="#2c2c48" stroke-width="0.22" transform="rotate(-90 776.5 205)">13</text>
<text x="772.5" y="221" font-family="Liberation Serif" font-size="5" fill="#2c2c48" font-weight="normal" text-anchor="middle" stroke="#2c2c48" stroke-width="0.22" transform="rotate(-90 772.5 221)">L2-1</text>
<text x="768" y="244" font-family="Liberation Serif" font-size="5" fill="#2c2c48" font-weight="normal" text-anchor="start" stroke="#2c2c48" stroke-width="0.22">6</text>
<path d="M795.50 184.50 L828.50 184.50 L828.50 196.50 L854.50 196.50" fill="none" stroke="#15152e" stroke-width="1.1" />
<circle cx="856.2" cy="184.6" r="1.9" fill="#fffcf5" stroke="#20208e" stroke-width="1.15"/>
<circle cx="856.2" cy="196.8" r="1.9" fill="#fffcf5" stroke="#20208e" stroke-width="1.15"/>
<path d="M856.50 186.50 L868.50 190.50" fill="none" stroke="#20208e" stroke-width="1.5" />
<circle cx="868.7" cy="190.4" r="1.9" fill="#fffcf5" stroke="#20208e" stroke-width="1.15"/>
<text x="843" y="182.5" font-family="Liberation Serif" font-size="5.5" fill="#2c2c48" font-weight="normal" text-anchor="start" stroke="#2c2c48" stroke-width="0.22">2</text>
<text x="843" y="195" font-family="Liberation Serif" font-size="5.5" fill="#2c2c48" font-weight="normal" text-anchor="start" stroke="#2c2c48" stroke-width="0.22">4</text>
<text x="863.5" y="186" font-family="Liberation Serif" font-size="5.5" fill="#2c2c48" font-weight="normal" text-anchor="start" stroke="#2c2c48" stroke-width="0.22">L2-1</text>
<text x="880.4" y="189" font-family="Liberation Serif" font-size="5.5" fill="#2c2c48" font-weight="normal" text-anchor="start" stroke="#2c2c48" stroke-width="0.22">13</text>
<path d="M780.50 225.50 L863.50 225.50" fill="none" stroke="#15152e" stroke-width="0.9" stroke-dasharray="3 2"/>
<path d="M862.50 189.50 L862.50 330.50" fill="none" stroke="#15152e" stroke-width="0.9" stroke-dasharray="3 2"/>
<path d="M845.50 236.50 L849.50 240.50" fill="none" stroke="#d04040" stroke-width="0.9" />
<path d="M845.50 240.50 L849.50 236.50" fill="none" stroke="#d04040" stroke-width="0.9" />
<text x="843" y="235.5" font-family="Liberation Serif" font-size="5.5" fill="#2c2c48" font-weight="normal" text-anchor="start" stroke="#2c2c48" stroke-width="0.22">2</text>
<text x="843" y="248.5" font-family="Liberation Serif" font-size="5.5" fill="#2c2c48" font-weight="normal" text-anchor="start" stroke="#2c2c48" stroke-width="0.22">4</text>
<circle cx="856.2" cy="237.7" r="1.9" fill="#fffcf5" stroke="#20208e" stroke-width="1.15"/>
<path d="M856.50 239.50 L868.50 243.50" fill="none" stroke="#20208e" stroke-width="1.5" />
<circle cx="868.7" cy="243.4" r="1.9" fill="#fffcf5" stroke="#20208e" stroke-width="1.15"/>
<path d="M870.50 243.50 L884.50 243.50" fill="none" stroke="#15152e" stroke-width="1.1" />
<text x="880.4" y="242" font-family="Liberation Serif" font-size="5.5" fill="#2c2c48" font-weight="normal" text-anchor="start" stroke="#2c2c48" stroke-width="0.22">13</text>
<text x="889.3" y="245" font-family="Liberation Serif" font-size="5.5" fill="#2c2c48" font-weight="normal" text-anchor="start" stroke="#2c2c48" stroke-width="0.22">+12V</text>
<text x="865.7" y="253" font-family="Liberation Serif" font-size="5.5" fill="#2c2c48" font-weight="normal" text-anchor="start" stroke="#2c2c48" stroke-width="0.22">L1-1</text>
<circle cx="856.2" cy="250.2" r="1.9" fill="#fffcf5" stroke="#20208e" stroke-width="1.15"/>
<path d="M843.50 250.50 L854.50 250.50" fill="none" stroke="#15152e" stroke-width="1.1" />
<rect x="831.5" y="247.5" width="12.0" height="5.0" fill="#fffcf5" stroke="#20208e" stroke-width="1.0" rx="0"/>
<text x="837.4" y="251.8" font-family="Liberation Serif" font-size="4.2" fill="#20208e" font-weight="normal" text-anchor="middle" stroke="#20208e" stroke-width="0.22">3K6</text>
<path d="M831.50 250.50 L824.50 250.50 L824.50 255.50" fill="none" stroke="#15152e" stroke-width="1.1" />
<path d="M820.4 255.9 L828.4 255.9 L824.4 261.7 Z" fill="#20208e"/>
<path d="M820.50 261.50 L828.50 261.50" fill="none" stroke="#20208e" stroke-width="1.1" />
<path d="M824.50 261.50 L824.50 275.50" fill="none" stroke="#15152e" stroke-width="1.1" />
<path d="M821.50 275.50 L827.50 275.50" fill="none" stroke="#15152e" stroke-width="1.2" />
<text x="818" y="261" font-family="Liberation Serif" font-size="5.2" fill="#20208e" font-weight="normal" text-anchor="middle" stroke="#20208e" stroke-width="0.22" transform="rotate(-90 818 261)">shunt ON</text>
<path d="M746.50 281.50 L771.50 281.50 L771.50 285.50" fill="none" stroke="#15152e" stroke-width="1.1" />
<circle cx="746.4" cy="281.3" r="0.9" fill="#7a3a3a"/>
<path d="M746.50 281.50 L746.50 366.50 L840.50 366.50 L840.50 337.50 L854.50 337.50" fill="none" stroke="#15152e" stroke-width="1.1" />
<rect x="765.5" y="268.5" width="44.0" height="85.0" fill="#fefcaa" stroke="#2a2418" stroke-width="1.1" rx="0"/>
<rect x="768.5" y="319.5" width="38.0" height="31.0" fill="#c3c3c3" stroke="#2a2a60" stroke-width="1.1" rx="11"/>
<path d="M783.5 331.1 L796 337.8 L783.5 344.5 Z" fill="#e8b8c8" stroke="#20208e" stroke-width="1.0"/>
<text x="785.7" y="339.8" font-family="Liberation Serif" font-size="5.5" fill="#c03030" font-weight="normal" text-anchor="start" stroke="#c03030" stroke-width="0.22">b</text>
<circle cx="771.4" cy="287.6" r="1.9" fill="#fffcf5" stroke="#20208e" stroke-width="1.15"/>
<circle cx="783.8" cy="287.6" r="1.9" fill="#fffcf5" stroke="#20208e" stroke-width="1.15"/>
<circle cx="778.1" cy="300.2" r="1.9" fill="#fffcf5" stroke="#20208e" stroke-width="1.15"/>
<path d="M778.50 298.50 L782.50 289.50" fill="none" stroke="#20208e" stroke-width="1.5" />
<text x="768.5" y="272" font-family="Liberation Serif" font-size="5" fill="#2c2c48" font-weight="normal" text-anchor="start" stroke="#2c2c48" stroke-width="0.22" transform="rotate(90 768.5 272)">10</text>
<text x="768" y="302" font-family="Liberation Serif" font-size="5" fill="#2c2c48" font-weight="normal" text-anchor="middle" stroke="#2c2c48" stroke-width="0.22" transform="rotate(-90 768 302)">L2-2</text>
<text x="774" y="314" font-family="Liberation Serif" font-size="5" fill="#2c2c48" font-weight="normal" text-anchor="middle" stroke="#2c2c48" stroke-width="0.22" transform="rotate(-90 774 314)">14</text>
<path d="M778.50 301.50 L778.50 337.50 L783.50 337.50" fill="none" stroke="#15152e" stroke-width="1.1" />
<path d="M780.50 294.50 L862.50 294.50" fill="none" stroke="#15152e" stroke-width="0.9" stroke-dasharray="3 2"/>
<path d="M796.50 337.50 L827.50 337.50 L827.50 325.50 L854.50 325.50" fill="none" stroke="#15152e" stroke-width="1.1" />
<circle cx="855.9" cy="325.3" r="1.9" fill="#fffcf5" stroke="#20208e" stroke-width="1.15"/>
<circle cx="855.9" cy="337.8" r="1.9" fill="#fffcf5" stroke="#20208e" stroke-width="1.15"/>
<path d="M856.50 336.50 L868.50 331.50" fill="none" stroke="#20208e" stroke-width="1.5" />
<circle cx="868.8" cy="331.6" r="1.9" fill="#fffcf5" stroke="#20208e" stroke-width="1.15"/>
<text x="839.5" y="323.5" font-family="Liberation Serif" font-size="5.5" fill="#2c2c48" font-weight="normal" text-anchor="start" stroke="#2c2c48" stroke-width="0.22">10</text>
<text x="842" y="336.5" font-family="Liberation Serif" font-size="5.5" fill="#2c2c48" font-weight="normal" text-anchor="start" stroke="#2c2c48" stroke-width="0.22">8</text>
<text x="880.5" y="329" font-family="Liberation Serif" font-size="5.5" fill="#2c2c48" font-weight="normal" text-anchor="start" stroke="#2c2c48" stroke-width="0.22">14</text>
<text x="860.4" y="343" font-family="Liberation Serif" font-size="5.5" fill="#2c2c48" font-weight="normal" text-anchor="start" stroke="#2c2c48" stroke-width="0.22">L3-2</text>
<text x="768.4" y="358.8" font-family="Liberation Serif" font-size="5.7" fill="#2c2c48" font-weight="normal" text-anchor="start" stroke="#2c2c48" stroke-width="0.22">Salas SHUNT R</text>
<path d="M870.50 190.50 L973.50 190.50" fill="none" stroke="#15152e" stroke-width="1.1" />
<path d="M943.50 190.50 L943.50 218.50" fill="none" stroke="#15152e" stroke-width="1.1" />
<circle cx="943.6" cy="190.4" r="0.9" fill="#7a3a3a"/>
<path d="M938.50 201.50 L948.50 201.50" fill="none" stroke="#20208e" stroke-width="1.8" />
<path d="M938.50 204.50 L948.50 204.50" fill="none" stroke="#20208e" stroke-width="1.8" />
<path d="M940.50 218.50 L946.50 218.50" fill="none" stroke="#15152e" stroke-width="1.2" />
<text x="949" y="209.9" font-family="Liberation Serif" font-size="5.5" fill="#2c2c48" font-weight="normal" text-anchor="start" stroke="#2c2c48" stroke-width="0.22">30uF</text>
<path d="M906.00 209.30 L928.10 209.30 L931.20 212.40 L928.10 215.50 L906.00 215.50 Z" fill="#fbec7e" stroke="#3a3010" stroke-width="1.0"/>
<text x="918.05" y="214.15" font-family="Liberation Serif" font-size="5.0" fill="#2a2210" font-weight="normal" text-anchor="middle" stroke="#2a2210" stroke-width="0.22">L GND</text>
<path d="M931.50 212.50 L943.50 212.50" fill="none" stroke="#15152e" stroke-width="1.1" />
<circle cx="975" cy="190.70000000000002" r="1.9" fill="#fffcf5" stroke="#20208e" stroke-width="1.15"/>
<circle cx="987.7" cy="184.0" r="1.9" fill="#fffcf5" stroke="#20208e" stroke-width="1.15"/>
<circle cx="987.7" cy="196.9" r="1.9" fill="#fffcf5" stroke="#20208e" stroke-width="1.15"/>
<path d="M976.50 190.50 L986.50 184.50" fill="none" stroke="#20208e" stroke-width="1.5" />
<path d="M982.50 191.50 L982.50 202.50" fill="none" stroke="#15152e" stroke-width="0.9" stroke-dasharray="2 1.5"/>
<rect x="978.5" y="202.5" width="8.0" height="14.0" fill="none" stroke="#15152e" stroke-width="1.1" rx="0"/>
<path d="M979.50 214.50 L985.50 204.50" fill="none" stroke="#15152e" stroke-width="0.9" />
<path d="M969.50 209.50 L978.50 209.50" fill="none" stroke="#15152e" stroke-width="1.1" />
<path d="M986.50 209.50 L995.50 209.50" fill="none" stroke="#15152e" stroke-width="1.1" />
<text x="978.2" y="222.4" font-family="Liberation Serif" font-size="5.5" fill="#b53c3a" font-weight="normal" text-anchor="start" stroke="#b53c3a" stroke-width="0.22">Ra2</text>
<path d="M870.50 331.50 L973.50 331.50" fill="none" stroke="#15152e" stroke-width="1.1" />
<path d="M943.50 331.50 L943.50 359.50" fill="none" stroke="#15152e" stroke-width="1.1" />
<circle cx="943.6" cy="331.6" r="0.9" fill="#7a3a3a"/>
<path d="M938.50 342.50 L948.50 342.50" fill="none" stroke="#20208e" stroke-width="1.8" />
<path d="M938.50 345.50 L948.50 345.50" fill="none" stroke="#20208e" stroke-width="1.8" />
<path d="M940.50 359.50 L946.50 359.50" fill="none" stroke="#15152e" stroke-width="1.2" />
<text x="949" y="351.1" font-family="Liberation Serif" font-size="5.5" fill="#2c2c48" font-weight="normal" text-anchor="start" stroke="#2c2c48" stroke-width="0.22">30uF</text>
<path d="M906.00 350.20 L928.10 350.20 L931.20 353.30 L928.10 356.40 L906.00 356.40 Z" fill="#fbec7e" stroke="#3a3010" stroke-width="1.0"/>
<text x="918.05" y="355.05" font-family="Liberation Serif" font-size="5.0" fill="#2a2210" font-weight="normal" text-anchor="middle" stroke="#2a2210" stroke-width="0.22">R GND</text>
<path d="M931.50 353.50 L943.50 353.50" fill="none" stroke="#15152e" stroke-width="1.1" />
<circle cx="975" cy="331.90000000000003" r="1.9" fill="#fffcf5" stroke="#20208e" stroke-width="1.15"/>
<circle cx="987.7" cy="325.20000000000005" r="1.9" fill="#fffcf5" stroke="#20208e" stroke-width="1.15"/>
<circle cx="987.7" cy="338.1" r="1.9" fill="#fffcf5" stroke="#20208e" stroke-width="1.15"/>
<path d="M976.50 331.50 L986.50 326.50" fill="none" stroke="#20208e" stroke-width="1.5" />
<path d="M982.50 333.50 L982.50 343.50" fill="none" stroke="#15152e" stroke-width="0.9" stroke-dasharray="2 1.5"/>
<rect x="978.5" y="343.5" width="8.0" height="14.0" fill="none" stroke="#15152e" stroke-width="1.1" rx="0"/>
<path d="M979.50 355.50 L985.50 345.50" fill="none" stroke="#15152e" stroke-width="0.9" />
<path d="M969.50 350.50 L978.50 350.50" fill="none" stroke="#15152e" stroke-width="1.1" />
<path d="M986.50 350.50 L995.50 350.50" fill="none" stroke="#15152e" stroke-width="1.1" />
<text x="978.2" y="363.6" font-family="Liberation Serif" font-size="5.5" fill="#b53c3a" font-weight="normal" text-anchor="start" stroke="#b53c3a" stroke-width="0.22">Ra3</text>
<rect x="1038.5" y="106.5" width="81.0" height="50.0" fill="#fefcaa" stroke="#2a2418" stroke-width="1.1" rx="0"/>
<text x="1041.6" y="113.7" font-family="Liberation Serif" font-size="5.5" fill="#3a3a30" font-weight="normal" text-anchor="start" stroke="#3a3a30" stroke-width="0.22">12B4A</text>
<text x="1041.6" y="133.9" font-family="Liberation Serif" font-size="5.5" fill="#3a3a30" font-weight="normal" text-anchor="start" stroke="#3a3a30" stroke-width="0.22">B+</text>
<text x="1041.6" y="148.70000000000002" font-family="Liberation Serif" font-size="5.5" fill="#3a3a30" font-weight="normal" text-anchor="start" stroke="#3a3a30" stroke-width="0.22">GND</text>
<ellipse cx="1082.3" cy="131.2" rx="15.6" ry="12.6" fill="none" stroke="#15152e" stroke-width="1.0"/>
<path d="M1060.50 132.50 L1072.50 132.50" fill="none" stroke="#15152e" stroke-width="1.1" />
<path d="M1072.50 128.50 L1072.50 136.50" fill="none" stroke="#15152e" stroke-width="1.2" />
<path d="M1078.50 126.50 L1078.50 141.50" fill="none" stroke="#15152e" stroke-width="1.0" stroke-dasharray="2 1.5"/>
<path d="M1078.50 142.50 L1078.50 149.50" fill="none" stroke="#15152e" stroke-width="1.1" />
<path d="M1078.50 143.50 L1104.50 143.50" fill="none" stroke="#15152e" stroke-width="1.1" />
<path d="M1087.50 126.50 L1085.50 126.50 L1085.50 133.50 L1087.50 133.50" fill="none" stroke="#15152e" stroke-width="1.1" />
<path d="M1096.50 124.50 L1091.50 129.50 L1095.50 134.50 L1096.50 138.50" fill="none" stroke="#15152e" stroke-width="1.1" />
<path d="M1095.50 124.50 L1104.50 124.50" fill="none" stroke="#15152e" stroke-width="1.1" />
<path d="M1095.50 137.50 L1104.50 137.50" fill="none" stroke="#15152e" stroke-width="1.1" />
<path d="M1085.50 133.50 L1089.50 143.50" fill="none" stroke="#15152e" stroke-width="1.1" />
<path d="M1038.50 146.50 L1031.50 146.50 L1031.50 153.50" fill="none" stroke="#15152e" stroke-width="1.1" />
<path d="M1028.50 153.50 L1034.50 153.50" fill="none" stroke="#15152e" stroke-width="1.1" />
<rect x="1038.5" y="181.5" width="81.0" height="50.0" fill="#fefcaa" stroke="#2a2418" stroke-width="1.1" rx="0"/>
<text x="1041.6" y="188.6" font-family="Liberation Serif" font-size="5.5" fill="#3a3a30" font-weight="normal" text-anchor="start" stroke="#3a3a30" stroke-width="0.22">6H30 (1/2)</text>
<text x="1041.6" y="211.5" font-family="Liberation Serif" font-size="5.5" fill="#3a3a30" font-weight="normal" text-anchor="start" stroke="#3a3a30" stroke-width="0.22">B+</text>
<text x="1041.6" y="224.70000000000002" font-family="Liberation Serif" font-size="5.5" fill="#3a3a30" font-weight="normal" text-anchor="start" stroke="#3a3a30" stroke-width="0.22">GND</text>
<path d="M1067.8 203.79999999999998 A15.6 12.6 0 0 0 1089.8 215.5" fill="none" stroke="#15152e" stroke-width="1.0"/>
<path d="M1060.50 203.50 L1072.50 203.50" fill="none" stroke="#15152e" stroke-width="1.1" />
<path d="M1072.50 199.50 L1072.50 207.50" fill="none" stroke="#15152e" stroke-width="1.2" />
<path d="M1078.50 198.50 L1078.50 222.50" fill="none" stroke="#15152e" stroke-width="1.1" />
<path d="M1078.50 215.50 L1104.50 215.50" fill="none" stroke="#15152e" stroke-width="1.1" />
<path d="M1087.50 200.50 L1085.50 200.50 L1085.50 210.50 L1087.50 210.50" fill="none" stroke="#15152e" stroke-width="1.1" />
<path d="M1092.50 196.50 L1096.50 196.50 L1091.50 203.50 L1095.50 209.50 L1095.50 215.50" fill="none" stroke="#15152e" stroke-width="1.1" />
<path d="M1095.50 209.50 L1104.50 209.50" fill="none" stroke="#15152e" stroke-width="1.1" />
<path d="M1085.50 210.50 L1088.50 215.50" fill="none" stroke="#15152e" stroke-width="1.1" />
<path d="M1038.50 222.50 L1031.50 222.50 L1031.50 229.50" fill="none" stroke="#15152e" stroke-width="1.1" />
<path d="M1028.50 229.50 L1034.50 229.50" fill="none" stroke="#15152e" stroke-width="1.1" />
<rect x="1038.5" y="256.5" width="81.0" height="50.0" fill="#fefcaa" stroke="#2a2418" stroke-width="1.1" rx="0"/>
<text x="1041.6" y="263.4" font-family="Liberation Serif" font-size="5.5" fill="#3a3a30" font-weight="normal" text-anchor="start" stroke="#3a3a30" stroke-width="0.22">12B4A</text>
<text x="1041.6" y="283.0" font-family="Liberation Serif" font-size="5.5" fill="#3a3a30" font-weight="normal" text-anchor="start" stroke="#3a3a30" stroke-width="0.22">B+</text>
<text x="1041.6" y="298.90000000000003" font-family="Liberation Serif" font-size="5.5" fill="#3a3a30" font-weight="normal" text-anchor="start" stroke="#3a3a30" stroke-width="0.22">GND</text>
<ellipse cx="1082.3" cy="280.9" rx="15.6" ry="12.6" fill="none" stroke="#15152e" stroke-width="1.0"/>
<path d="M1060.50 281.50 L1072.50 281.50" fill="none" stroke="#15152e" stroke-width="1.1" />
<path d="M1072.50 277.50 L1072.50 285.50" fill="none" stroke="#15152e" stroke-width="1.2" />
<path d="M1078.50 275.50 L1078.50 290.50" fill="none" stroke="#15152e" stroke-width="1.0" stroke-dasharray="2 1.5"/>
<path d="M1078.50 291.50 L1078.50 299.50" fill="none" stroke="#15152e" stroke-width="1.1" />
<path d="M1078.50 293.50 L1104.50 293.50" fill="none" stroke="#15152e" stroke-width="1.1" />
<path d="M1087.50 275.50 L1085.50 275.50 L1085.50 282.50 L1087.50 282.50" fill="none" stroke="#15152e" stroke-width="1.1" />
<path d="M1096.50 273.50 L1091.50 278.50 L1095.50 283.50 L1096.50 287.50" fill="none" stroke="#15152e" stroke-width="1.1" />
<path d="M1095.50 274.50 L1104.50 274.50" fill="none" stroke="#15152e" stroke-width="1.1" />
<path d="M1095.50 286.50 L1104.50 286.50" fill="none" stroke="#15152e" stroke-width="1.1" />
<path d="M1085.50 282.50 L1089.50 293.50" fill="none" stroke="#15152e" stroke-width="1.1" />
<path d="M1038.50 296.50 L1031.50 296.50 L1031.50 303.50" fill="none" stroke="#15152e" stroke-width="1.1" />
<path d="M1028.50 303.50 L1034.50 303.50" fill="none" stroke="#15152e" stroke-width="1.1" />
<rect x="1038.5" y="328.5" width="81.0" height="50.0" fill="#fefcaa" stroke="#2a2418" stroke-width="1.1" rx="0"/>
<text x="1041.6" y="335.3" font-family="Liberation Serif" font-size="5.5" fill="#3a3a30" font-weight="normal" text-anchor="start" stroke="#3a3a30" stroke-width="0.22">6H30 (2/2)</text>
<text x="1041.6" y="356.1" font-family="Liberation Serif" font-size="5.5" fill="#3a3a30" font-weight="normal" text-anchor="start" stroke="#3a3a30" stroke-width="0.22">B+</text>
<text x="1041.6" y="371.5" font-family="Liberation Serif" font-size="5.5" fill="#3a3a30" font-weight="normal" text-anchor="start" stroke="#3a3a30" stroke-width="0.22">GND</text>
<path d="M1067.8 350.5 A15.6 12.6 0 0 0 1089.8 362.2" fill="none" stroke="#15152e" stroke-width="1.0"/>
<path d="M1060.50 349.50 L1072.50 349.50" fill="none" stroke="#15152e" stroke-width="1.1" />
<path d="M1072.50 345.50 L1072.50 353.50" fill="none" stroke="#15152e" stroke-width="1.2" />
<path d="M1078.50 345.50 L1078.50 369.50" fill="none" stroke="#15152e" stroke-width="1.1" />
<path d="M1078.50 362.50 L1104.50 362.50" fill="none" stroke="#15152e" stroke-width="1.1" />
<path d="M1087.50 346.50 L1085.50 346.50 L1085.50 356.50 L1087.50 356.50" fill="none" stroke="#15152e" stroke-width="1.1" />
<path d="M1092.50 342.50 L1096.50 342.50 L1091.50 349.50 L1095.50 355.50 L1095.50 362.50" fill="none" stroke="#15152e" stroke-width="1.1" />
<path d="M1095.50 355.50 L1104.50 355.50" fill="none" stroke="#15152e" stroke-width="1.1" />
<path d="M1085.50 356.50 L1088.50 362.50" fill="none" stroke="#15152e" stroke-width="1.1" />
<path d="M1038.50 369.50 L1031.50 369.50 L1031.50 376.50" fill="none" stroke="#15152e" stroke-width="1.1" />
<path d="M1028.50 376.50 L1034.50 376.50" fill="none" stroke="#15152e" stroke-width="1.1" />
<path d="M989.50 184.50 L1022.50 184.50 L1022.50 131.50 L1038.50 131.50" fill="none" stroke="#15152e" stroke-width="1.1" />
<path d="M989.50 196.50 L1022.50 196.50 L1022.50 209.50 L1038.50 209.50" fill="none" stroke="#15152e" stroke-width="1.1" />
<path d="M989.50 325.50 L1022.50 325.50 L1022.50 280.50 L1038.50 280.50" fill="none" stroke="#15152e" stroke-width="1.1" />
<path d="M989.50 338.50 L1022.50 338.50 L1022.50 353.50 L1038.50 353.50" fill="none" stroke="#15152e" stroke-width="1.1" />
<circle cx="804.6" cy="460" r="3.6" fill="none" stroke="#20208e" stroke-width="1.1"/>
<circle cx="804.6" cy="460" r="1.6" fill="#20208e"/>
<circle cx="801.6" cy="452.1" r="0.7" fill="#15152e"/>
<text x="784" y="466.5" font-family="Liberation Serif" font-size="5.5" fill="#2c2c48" font-weight="normal" text-anchor="start" stroke="#2c2c48" stroke-width="0.22">IN L</text>
<path d="M804.50 463.50 L804.50 491.50" fill="none" stroke="#15152e" stroke-width="1.1" />
<path d="M801.50 491.50 L807.50 491.50" fill="none" stroke="#15152e" stroke-width="1.2" />
<path d="M808.50 460.50 L827.50 460.50 L827.50 466.50" fill="none" stroke="#15152e" stroke-width="1.1" />
<rect x="825.5" y="466.5" width="5.0" height="13.0" fill="#fffcf5" stroke="#15152e" stroke-width="1.0" rx="0"/>
<path d="M827.50 479.50 L827.50 491.50" fill="none" stroke="#15152e" stroke-width="1.1" />
<path d="M824.50 491.50 L831.50 491.50" fill="none" stroke="#15152e" stroke-width="1.2" />
<path d="M831.2 472.7 L834.5 471 L834.5 474.4 Z" fill="#15152e"/>
<path d="M834.50 472.50 L860.50 472.50" fill="none" stroke="#15152e" stroke-width="1.1" />
<circle cx="862.2" cy="472.7" r="1.9" fill="#fffcf5" stroke="#20208e" stroke-width="1.15"/>
<circle cx="874.9" cy="466.5" r="1.9" fill="#fffcf5" stroke="#20208e" stroke-width="1.15"/>
<circle cx="874.9" cy="479.1" r="1.9" fill="#fffcf5" stroke="#20208e" stroke-width="1.15"/>
<path d="M863.50 472.50 L873.50 468.50" fill="none" stroke="#20208e" stroke-width="1.5" />
<path d="M869.50 474.50 L869.50 485.50" fill="none" stroke="#15152e" stroke-width="0.9" stroke-dasharray="2 1.5"/>
<rect x="865.5" y="485.5" width="8.0" height="13.0" fill="none" stroke="#15152e" stroke-width="1.1" rx="0"/>
<path d="M866.50 496.50 L872.50 486.50" fill="none" stroke="#15152e" stroke-width="0.9" />
<path d="M856.50 491.50 L865.50 491.50" fill="none" stroke="#15152e" stroke-width="1.1" />
<path d="M873.50 491.50 L882.50 491.50" fill="none" stroke="#15152e" stroke-width="1.1" />
<text x="865.5" y="504.5" font-family="Liberation Serif" font-size="5.5" fill="#b53c3a" font-weight="normal" text-anchor="start" stroke="#b53c3a" stroke-width="0.22">Ra4</text>
<path d="M876.50 466.50 L896.50 466.50 L896.50 435.50 L915.50 435.50" fill="none" stroke="#15152e" stroke-width="1.1" />
<path d="M876.50 479.50 L896.50 479.50 L896.50 510.50 L915.50 510.50" fill="none" stroke="#15152e" stroke-width="1.1" />
<rect x="915.5" y="410.5" width="82.0" height="50.0" fill="#fefcaa" stroke="#2a2418" stroke-width="1.1" rx="0"/>
<text x="991.1" y="418.9" font-family="Liberation Serif" font-size="5.5" fill="#3a3a30" font-weight="normal" text-anchor="end" stroke="#3a3a30" stroke-width="0.22">12B4A</text>
<path d="M914.50 435.50 L915.50 435.50" fill="none" stroke="#15152e" stroke-width="1.1" />
<ellipse cx="956.4" cy="435.9" rx="12.6" ry="16.2" fill="none" stroke="#15152e" stroke-width="1.0"/>
<path d="M957.50 413.50 L957.50 425.50" fill="none" stroke="#15152e" stroke-width="1.1" />
<path d="M953.50 425.50 L960.50 425.50" fill="none" stroke="#15152e" stroke-width="1.1" />
<path d="M937.50 432.50 L961.50 432.50" fill="none" stroke="#15152e" stroke-width="1.0" stroke-dasharray="3 1.5"/>
<path d="M943.50 438.50 L943.50 457.50" fill="none" stroke="#15152e" stroke-width="1.1" />
<path d="M950.50 443.50 L950.50 457.50" fill="none" stroke="#15152e" stroke-width="1.1" />
<path d="M962.50 443.50 L962.50 457.50" fill="none" stroke="#15152e" stroke-width="1.1" />
<path d="M950.50 443.50 L954.50 443.50 L956.50 440.50 L958.50 443.50 L962.50 443.50" fill="none" stroke="#15152e" stroke-width="1.1" />
<path d="M944.50 440.50 L952.50 436.50 L959.50 436.50" fill="none" stroke="#15152e" stroke-width="1.1" />
<rect x="915.5" y="485.5" width="82.0" height="50.0" fill="#fefcaa" stroke="#2a2418" stroke-width="1.1" rx="0"/>
<text x="991.1" y="494.2" font-family="Liberation Serif" font-size="5.5" fill="#3a3a30" font-weight="normal" text-anchor="end" stroke="#3a3a30" stroke-width="0.22">6H30 (1/2)</text>
<path d="M914.50 510.50 L915.50 510.50" fill="none" stroke="#15152e" stroke-width="1.1" />
<path d="M957.4 495.2 A12.6 16.2 0 0 0 958.4 527.2" fill="none" stroke="#15152e" stroke-width="1.0"/>
<path d="M957.50 488.50 L957.50 500.50" fill="none" stroke="#15152e" stroke-width="1.1" />
<path d="M953.50 500.50 L960.50 500.50" fill="none" stroke="#15152e" stroke-width="1.1" />
<path d="M937.50 507.50 L961.50 507.50" fill="none" stroke="#15152e" stroke-width="1.0" stroke-dasharray="3 1.5"/>
<path d="M943.50 514.50 L943.50 532.50" fill="none" stroke="#15152e" stroke-width="1.1" />
<path d="M950.50 518.50 L950.50 532.50" fill="none" stroke="#15152e" stroke-width="1.1" />
<path d="M962.50 518.50 L962.50 532.50" fill="none" stroke="#15152e" stroke-width="1.1" />
<path d="M950.50 518.50 L954.50 518.50 L956.50 516.50 L958.50 518.50 L962.50 518.50" fill="none" stroke="#15152e" stroke-width="1.1" />
<path d="M944.50 516.50 L952.50 512.50 L959.50 512.50" fill="none" stroke="#15152e" stroke-width="1.1" />
<circle cx="804.6" cy="610.3" r="3.6" fill="none" stroke="#20208e" stroke-width="1.1"/>
<circle cx="804.6" cy="610.3" r="1.6" fill="#20208e"/>
<circle cx="801.6" cy="602.4" r="0.7" fill="#15152e"/>
<text x="784" y="616.8" font-family="Liberation Serif" font-size="5.5" fill="#2c2c48" font-weight="normal" text-anchor="start" stroke="#2c2c48" stroke-width="0.22">IN R</text>
<path d="M804.50 614.50 L804.50 641.50" fill="none" stroke="#15152e" stroke-width="1.1" />
<path d="M801.50 641.50 L807.50 641.50" fill="none" stroke="#15152e" stroke-width="1.2" />
<path d="M808.50 610.50 L827.50 610.50 L827.50 616.50" fill="none" stroke="#15152e" stroke-width="1.1" />
<rect x="825.5" y="616.5" width="5.0" height="14.0" fill="#fffcf5" stroke="#15152e" stroke-width="1.0" rx="0"/>
<path d="M827.50 630.50 L827.50 641.50" fill="none" stroke="#15152e" stroke-width="1.1" />
<path d="M824.50 641.50 L831.50 641.50" fill="none" stroke="#15152e" stroke-width="1.2" />
<path d="M831.2 623.0 L834.5 621.3 L834.5 624.6999999999999 Z" fill="#15152e"/>
<path d="M834.50 623.50 L860.50 623.50" fill="none" stroke="#15152e" stroke-width="1.1" />
<circle cx="862.2" cy="623.0" r="1.9" fill="#fffcf5" stroke="#20208e" stroke-width="1.15"/>
<circle cx="874.9" cy="616.8" r="1.9" fill="#fffcf5" stroke="#20208e" stroke-width="1.15"/>
<circle cx="874.9" cy="629.4" r="1.9" fill="#fffcf5" stroke="#20208e" stroke-width="1.15"/>
<path d="M863.50 622.50 L873.50 618.50" fill="none" stroke="#20208e" stroke-width="1.5" />
<path d="M869.50 624.50 L869.50 635.50" fill="none" stroke="#15152e" stroke-width="0.9" stroke-dasharray="2 1.5"/>
<rect x="865.5" y="635.5" width="8.0" height="13.0" fill="none" stroke="#15152e" stroke-width="1.1" rx="0"/>
<path d="M866.50 647.50 L872.50 636.50" fill="none" stroke="#15152e" stroke-width="0.9" />
<path d="M856.50 642.50 L865.50 642.50" fill="none" stroke="#15152e" stroke-width="1.1" />
<path d="M873.50 642.50 L882.50 642.50" fill="none" stroke="#15152e" stroke-width="1.1" />
<text x="865.5" y="654.8" font-family="Liberation Serif" font-size="5.5" fill="#b53c3a" font-weight="normal" text-anchor="start" stroke="#b53c3a" stroke-width="0.22">Ra5</text>
<path d="M876.50 616.50 L896.50 616.50 L896.50 586.50 L915.50 586.50" fill="none" stroke="#15152e" stroke-width="1.1" />
<path d="M876.50 629.50 L896.50 629.50 L896.50 661.50 L915.50 661.50" fill="none" stroke="#15152e" stroke-width="1.1" />
<rect x="915.5" y="561.5" width="82.0" height="50.0" fill="#fefcaa" stroke="#2a2418" stroke-width="1.1" rx="0"/>
<text x="991.1" y="569.5" font-family="Liberation Serif" font-size="5.5" fill="#3a3a30" font-weight="normal" text-anchor="end" stroke="#3a3a30" stroke-width="0.22">12B4A</text>
<path d="M914.50 586.50 L915.50 586.50" fill="none" stroke="#15152e" stroke-width="1.1" />
<ellipse cx="956.4" cy="586.5" rx="12.6" ry="16.2" fill="none" stroke="#15152e" stroke-width="1.0"/>
<path d="M957.50 563.50 L957.50 576.50" fill="none" stroke="#15152e" stroke-width="1.1" />
<path d="M953.50 576.50 L960.50 576.50" fill="none" stroke="#15152e" stroke-width="1.1" />
<path d="M937.50 583.50 L961.50 583.50" fill="none" stroke="#15152e" stroke-width="1.0" stroke-dasharray="3 1.5"/>
<path d="M943.50 589.50 L943.50 608.50" fill="none" stroke="#15152e" stroke-width="1.1" />
<path d="M950.50 594.50 L950.50 608.50" fill="none" stroke="#15152e" stroke-width="1.1" />
<path d="M962.50 594.50 L962.50 608.50" fill="none" stroke="#15152e" stroke-width="1.1" />
<path d="M950.50 594.50 L954.50 594.50 L956.50 591.50 L958.50 594.50 L962.50 594.50" fill="none" stroke="#15152e" stroke-width="1.1" />
<path d="M944.50 591.50 L952.50 587.50 L959.50 587.50" fill="none" stroke="#15152e" stroke-width="1.1" />
<rect x="915.5" y="636.5" width="82.0" height="50.0" fill="#fefcaa" stroke="#2a2418" stroke-width="1.1" rx="0"/>
<text x="991.1" y="645.1" font-family="Liberation Serif" font-size="5.5" fill="#3a3a30" font-weight="normal" text-anchor="end" stroke="#3a3a30" stroke-width="0.22">6H30 (2/2)</text>
<path d="M914.50 661.50 L915.50 661.50" fill="none" stroke="#15152e" stroke-width="1.1" />
<g transform="translate(1913.8 0) scale(-1 1)">
<path d="M957.4 646.1 A12.6 16.2 0 0 0 958.4 678.1" fill="none" stroke="#15152e" stroke-width="1.0"/>
<path d="M957.50 639.50 L957.50 651.50" fill="none" stroke="#15152e" stroke-width="1.1" />
<path d="M953.50 651.50 L960.50 651.50" fill="none" stroke="#15152e" stroke-width="1.1" />
<path d="M937.50 658.50 L961.50 658.50" fill="none" stroke="#15152e" stroke-width="1.0" stroke-dasharray="3 1.5"/>
<path d="M943.50 665.50 L943.50 683.50" fill="none" stroke="#15152e" stroke-width="1.1" />
<path d="M950.50 669.50 L950.50 683.50" fill="none" stroke="#15152e" stroke-width="1.1" />
<path d="M962.50 669.50 L962.50 683.50" fill="none" stroke="#15152e" stroke-width="1.1" />
<path d="M950.50 669.50 L954.50 669.50 L956.50 667.50 L958.50 669.50 L962.50 669.50" fill="none" stroke="#15152e" stroke-width="1.1" />
<path d="M944.50 667.50 L952.50 663.50 L959.50 663.50" fill="none" stroke="#15152e" stroke-width="1.1" />
</g>
<path d="M841.50 473.50 L841.50 623.50" fill="none" stroke="#15152e" stroke-width="0.9" stroke-dasharray="3 2"/>
<path d="M997.50 435.50 L1024.50 435.50" fill="none" stroke="#15152e" stroke-width="1.1" />
<path d="M1028.50 435.50 L1051.50 435.50 L1051.50 466.50 L1070.50 466.50" fill="none" stroke="#15152e" stroke-width="1.1" />
<path d="M1024.50 431.50 L1024.50 440.50" fill="none" stroke="#20208e" stroke-width="1.6" />
<path d="M1028.50 431.50 L1028.50 440.50" fill="none" stroke="#20208e" stroke-width="1.6" />
<text x="1021.4" y="447.5" font-family="Liberation Serif" font-size="5.5" fill="#2c2c48" font-weight="normal" text-anchor="start" stroke="#2c2c48" stroke-width="0.22">10nF</text>
<path d="M997.50 509.50 L1024.50 509.50" fill="none" stroke="#15152e" stroke-width="1.1" />
<path d="M1028.50 509.50 L1051.50 509.50 L1051.50 478.50 L1070.50 478.50" fill="none" stroke="#15152e" stroke-width="1.1" />
<path d="M1024.50 505.50 L1024.50 514.50" fill="none" stroke="#20208e" stroke-width="1.6" />
<path d="M1028.50 505.50 L1028.50 514.50" fill="none" stroke="#20208e" stroke-width="1.6" />
<text x="1021.4" y="521.7" font-family="Liberation Serif" font-size="5.5" fill="#2c2c48" font-weight="normal" text-anchor="start" stroke="#2c2c48" stroke-width="0.22">4u7</text>
<circle cx="1072.5" cy="466.2" r="1.9" fill="#fffcf5" stroke="#20208e" stroke-width="1.15"/>
<circle cx="1085.1" cy="472.7" r="1.9" fill="#fffcf5" stroke="#20208e" stroke-width="1.15"/>
<circle cx="1072.5" cy="478.8" r="1.9" fill="#fffcf5" stroke="#20208e" stroke-width="1.15"/>
<path d="M1074.50 467.50 L1083.50 472.50" fill="none" stroke="#20208e" stroke-width="1.5" />
<path d="M1078.50 473.50 L1078.50 483.50" fill="none" stroke="#15152e" stroke-width="0.9" stroke-dasharray="2 1.5"/>
<rect x="1073.5" y="484.5" width="8.0" height="14.0" fill="none" stroke="#15152e" stroke-width="1.1" rx="0"/>
<path d="M1074.50 496.50 L1080.50 486.50" fill="none" stroke="#15152e" stroke-width="0.9" />
<path d="M1066.50 491.50 L1073.50 491.50" fill="none" stroke="#15152e" stroke-width="1.1" />
<path d="M1081.50 491.50 L1088.50 491.50" fill="none" stroke="#15152e" stroke-width="1.1" />
<text x="1072.5" y="505.2" font-family="Liberation Serif" font-size="5.5" fill="#b53c3a" font-weight="normal" text-anchor="start" stroke="#b53c3a" stroke-width="0.22">Ra6</text>
<path d="M997.50 585.50 L1024.50 585.50" fill="none" stroke="#15152e" stroke-width="1.1" />
<path d="M1028.50 585.50 L1051.50 585.50 L1051.50 616.50 L1070.50 616.50" fill="none" stroke="#15152e" stroke-width="1.1" />
<path d="M1024.50 580.50 L1024.50 589.50" fill="none" stroke="#20208e" stroke-width="1.6" />
<path d="M1028.50 580.50 L1028.50 589.50" fill="none" stroke="#20208e" stroke-width="1.6" />
<text x="1021.4" y="597.4" font-family="Liberation Serif" font-size="5.5" fill="#2c2c48" font-weight="normal" text-anchor="start" stroke="#2c2c48" stroke-width="0.22">10nF</text>
<path d="M997.50 661.50 L1024.50 661.50" fill="none" stroke="#15152e" stroke-width="1.1" />
<path d="M1028.50 661.50 L1051.50 661.50 L1051.50 629.50 L1070.50 629.50" fill="none" stroke="#15152e" stroke-width="1.1" />
<path d="M1024.50 657.50 L1024.50 666.50" fill="none" stroke="#20208e" stroke-width="1.6" />
<path d="M1028.50 657.50 L1028.50 666.50" fill="none" stroke="#20208e" stroke-width="1.6" />
<text x="1021.4" y="673.5" font-family="Liberation Serif" font-size="5.5" fill="#2c2c48" font-weight="normal" text-anchor="start" stroke="#2c2c48" stroke-width="0.22">4u7</text>
<circle cx="1072.5" cy="616.5" r="1.9" fill="#fffcf5" stroke="#20208e" stroke-width="1.15"/>
<circle cx="1085.1" cy="623.0" r="1.9" fill="#fffcf5" stroke="#20208e" stroke-width="1.15"/>
<circle cx="1072.5" cy="629.1" r="1.9" fill="#fffcf5" stroke="#20208e" stroke-width="1.15"/>
<path d="M1074.50 618.50 L1083.50 622.50" fill="none" stroke="#20208e" stroke-width="1.5" />
<path d="M1078.50 624.50 L1078.50 634.50" fill="none" stroke="#15152e" stroke-width="0.9" stroke-dasharray="2 1.5"/>
<rect x="1073.5" y="635.5" width="8.0" height="13.0" fill="none" stroke="#15152e" stroke-width="1.1" rx="0"/>
<path d="M1074.50 647.50 L1080.50 636.50" fill="none" stroke="#15152e" stroke-width="0.9" />
<path d="M1066.50 641.50 L1073.50 641.50" fill="none" stroke="#15152e" stroke-width="1.1" />
<path d="M1081.50 641.50 L1088.50 641.50" fill="none" stroke="#15152e" stroke-width="1.1" />
<text x="1072.5" y="655.5" font-family="Liberation Serif" font-size="5.5" fill="#b53c3a" font-weight="normal" text-anchor="start" stroke="#b53c3a" stroke-width="0.22">Ra7</text>
<path d="M1086.50 472.50 L1125.50 472.50 L1125.50 510.50" fill="none" stroke="#15152e" stroke-width="1.1" />
<circle cx="1125.7" cy="510" r="0.9" fill="#7a3a3a"/>
<path d="M1086.50 623.50 L1125.50 623.50 L1125.50 525.50" fill="none" stroke="#15152e" stroke-width="1.1" />
<circle cx="1125.7" cy="525.9" r="0.9" fill="#7a3a3a"/>
<path d="M1097.50 510.50 L1138.50 510.50" fill="none" stroke="#15152e" stroke-width="1.1" />
<path d="M1110.50 525.50 L1138.50 525.50" fill="none" stroke="#15152e" stroke-width="1.1" />
<path d="M1138.40 507.30 L1166.40 507.30 L1169.60 510.50 L1166.40 513.70 L1138.40 513.70 Z" fill="#fbec7e" stroke="#3a3010" stroke-width="1.0"/>
<text x="1153.4" y="512.355" font-family="Liberation Serif" font-size="5.3" fill="#2a2210" font-weight="normal" text-anchor="middle" stroke="#2a2210" stroke-width="0.22">OUT L</text>
<path d="M1138.40 522.80 L1166.40 522.80 L1169.60 526.00 L1166.40 529.20 L1138.40 529.20 Z" fill="#fbec7e" stroke="#3a3010" stroke-width="1.0"/>
<text x="1153.4" y="527.855" font-family="Liberation Serif" font-size="5.3" fill="#2a2210" font-weight="normal" text-anchor="middle" stroke="#2a2210" stroke-width="0.22">OUT R</text>
<path d="M1097.50 510.50 L1097.50 539.50" fill="none" stroke="#15152e" stroke-width="1.1" />
<path d="M1110.50 525.50 L1110.50 539.50" fill="none" stroke="#15152e" stroke-width="1.1" />
<rect x="1072.5" y="544.5" width="13.0" height="8.0" fill="none" stroke="#15152e" stroke-width="1.1" rx="0"/>
<path d="M1074.50 551.50 L1084.50 545.50" fill="none" stroke="#15152e" stroke-width="0.9" />
<path d="M1079.50 544.50 L1079.50 541.50" fill="none" stroke="#15152e" stroke-width="1.1" />
<path d="M1079.50 552.50 L1079.50 556.50" fill="none" stroke="#15152e" stroke-width="1.1" />
<path d="M1085.50 548.50 L1110.50 548.50" fill="none" stroke="#15152e" stroke-width="0.9" stroke-dasharray="2.5 1.5"/>
<circle cx="1097.4" cy="541.6" r="1.9" fill="#fffcf5" stroke="#20208e" stroke-width="1.15"/>
<circle cx="1097.4" cy="554.3" r="1.9" fill="#fffcf5" stroke="#20208e" stroke-width="1.15"/>
<path d="M1097.50 543.50 L1097.50 552.50" fill="none" stroke="#20208e" stroke-width="1.4" />
<path d="M1097.50 556.50 L1097.50 567.50" fill="none" stroke="#15152e" stroke-width="1.1" />
<circle cx="1110" cy="541.6" r="1.9" fill="#fffcf5" stroke="#20208e" stroke-width="1.15"/>
<circle cx="1110" cy="554.3" r="1.9" fill="#fffcf5" stroke="#20208e" stroke-width="1.15"/>
<path d="M1110.50 543.50 L1110.50 552.50" fill="none" stroke="#20208e" stroke-width="1.4" />
<path d="M1110.50 556.50 L1110.50 567.50" fill="none" stroke="#15152e" stroke-width="1.1" />
<path d="M1097.50 567.50 L1094.50 567.50 L1094.50 579.50" fill="none" stroke="#15152e" stroke-width="1.1" />
<path d="M1110.50 567.50 L1113.50 567.50 L1113.50 579.50" fill="none" stroke="#15152e" stroke-width="1.1" />
<path d="M1091.50 579.50 L1096.50 579.50" fill="none" stroke="#15152e" stroke-width="1.2" />
<path d="M1110.50 579.50 L1115.50 579.50" fill="none" stroke="#15152e" stroke-width="1.2" />
<text x="1071.6" y="566" font-family="Liberation Serif" font-size="5.6" fill="#1a1a4a" font-weight="bold" text-anchor="start">MUTE</text>
<text x="1087.3" y="584" font-family="Liberation Serif" font-size="5.2" fill="#6a3a3a" font-weight="normal" text-anchor="start" stroke="#6a3a3a" stroke-width="0.22">L GND</text>
<text x="1105.9" y="584" font-family="Liberation Serif" font-size="5.2" fill="#6a3a3a" font-weight="normal" text-anchor="start" stroke="#6a3a3a" stroke-width="0.22">R GND</text>
</svg></body></html>
